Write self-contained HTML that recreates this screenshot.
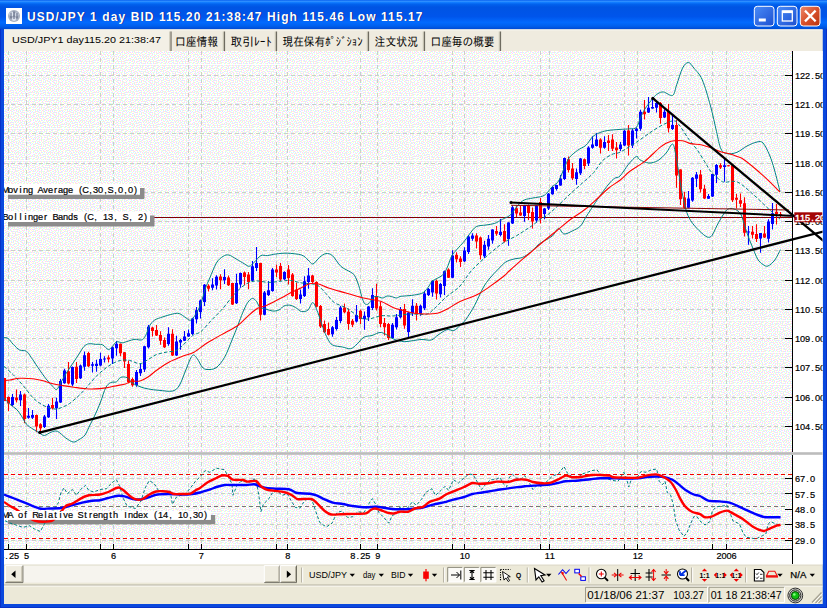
<!DOCTYPE html>
<html lang="ja"><head><meta charset="utf-8"><title>USD/JPY 1 day</title>
<style>
html,body{margin:0;padding:0;background:#0a48dd;overflow:hidden}
svg{display:block}
text{font-family:"Liberation Sans","IPAGothic","Noto Sans CJK JP",sans-serif}
.mono{font-family:"Liberation Sans","IPAGothic",sans-serif;stroke:#000;stroke-width:0.2px}
.jp{font-family:"Liberation Sans","IPAGothic","Noto Sans CJK JP",sans-serif}
.grid{stroke:#c9d0c9;stroke-width:1;stroke-dasharray:4 3;fill:none;shape-rendering:crispEdges}
.bb{stroke:#008080;stroke-width:1;fill:none}
.bbm{stroke:#008080;stroke-width:1;fill:none;stroke-dasharray:3.5 2}
.ma{stroke:#ff0000;stroke-width:1.1;fill:none}
.tl{stroke:#000;stroke-width:2.3;fill:none}
</style></head><body>
<svg width="827" height="608" viewBox="0 0 827 608">
<defs>
<linearGradient id="tb" x1="0" y1="0" x2="0" y2="1">
<stop offset="0" stop-color="#0058ee"/><stop offset="0.04" stop-color="#3593ff"/><stop offset="0.08" stop-color="#127dff"/>
<stop offset="0.14" stop-color="#0262ee"/><stop offset="0.24" stop-color="#0054e3"/><stop offset="0.56" stop-color="#0055eb"/>
<stop offset="0.76" stop-color="#026afe"/><stop offset="0.88" stop-color="#0060ee"/><stop offset="1" stop-color="#0048d0"/>
</linearGradient>
<linearGradient id="btn" x1="0" y1="0" x2="1" y2="1"><stop offset="0" stop-color="#4a8cf8"/><stop offset="1" stop-color="#1c4fd0"/></linearGradient>
<linearGradient id="cls" x1="0" y1="0" x2="1" y2="1"><stop offset="0" stop-color="#ee8a6c"/><stop offset="0.5" stop-color="#d8512c"/><stop offset="1" stop-color="#b8320e"/></linearGradient>
<pattern id="dz" width="32" height="32" patternUnits="userSpaceOnUse" shape-rendering="crispEdges"><rect width="32" height="32" fill="#fff"/><path d="M2 1h1v1h-1zM5 1h1v1h-1zM8 1h1v1h-1zM11 1h1v1h-1zM14 1h1v1h-1zM17 1h1v1h-1zM20 1h1v1h-1zM23 1h1v1h-1zM26 1h1v1h-1zM29 1h1v1h-1zM4 2h1v1h-1zM12 2h1v1h-1zM19 2h1v1h-1zM25 2h1v1h-1zM31 2h1v1h-1zM2 3h1v1h-1zM8 3h1v1h-1zM10 3h1v1h-1zM14 3h1v1h-1zM17 3h1v1h-1zM23 3h1v1h-1zM29 3h1v1h-1zM4 4h1v1h-1zM7 4h1v1h-1zM19 4h1v1h-1zM21 4h1v1h-1zM25 4h1v1h-1zM0 5h1v1h-1zM2 5h1v1h-1zM10 5h1v1h-1zM13 5h1v1h-1zM15 5h1v1h-1zM17 5h1v1h-1zM28 5h1v1h-1zM30 5h1v1h-1zM5 6h1v1h-1zM19 6h1v1h-1zM22 6h1v1h-1zM24 6h1v1h-1zM26 6h1v1h-1zM0 7h1v1h-1zM3 7h1v1h-1zM7 7h1v1h-1zM11 7h1v1h-1zM13 7h1v1h-1zM17 7h1v1h-1zM28 7h1v1h-1zM5 8h1v1h-1zM9 8h1v1h-1zM15 8h1v1h-1zM19 8h1v1h-1zM22 8h1v1h-1zM30 8h1v1h-1zM2 9h1v1h-1zM7 9h1v1h-1zM13 9h1v1h-1zM20 9h1v1h-1zM25 9h1v1h-1zM28 9h1v1h-1zM3 10h1v1h-1zM9 10h1v1h-1zM15 10h1v1h-1zM18 10h1v1h-1zM23 10h1v1h-1zM31 10h1v1h-1zM1 11h1v1h-1zM5 11h1v1h-1zM7 11h1v1h-1zM12 11h1v1h-1zM16 11h1v1h-1zM21 11h1v1h-1zM26 11h1v1h-1zM29 11h1v1h-1zM9 12h1v1h-1zM14 12h1v1h-1zM23 12h1v1h-1zM28 12h1v1h-1zM0 13h1v1h-1zM3 13h1v1h-1zM6 13h1v1h-1zM12 13h1v1h-1zM19 13h1v1h-1zM21 13h1v1h-1zM26 13h1v1h-1zM7 14h1v1h-1zM10 14h1v1h-1zM14 14h1v1h-1zM16 14h1v1h-1zM23 14h1v1h-1zM29 14h1v1h-1zM3 15h1v1h-1zM5 15h1v1h-1zM12 15h1v1h-1zM18 15h1v1h-1zM20 15h1v1h-1zM27 15h1v1h-1zM30 15h1v1h-1zM1 16h1v1h-1zM7 16h1v1h-1zM9 16h1v1h-1zM15 16h1v1h-1zM22 16h1v1h-1zM24 16h1v1h-1zM5 17h1v1h-1zM13 17h1v1h-1zM17 17h1v1h-1zM20 17h1v1h-1zM26 17h1v1h-1zM30 17h1v1h-1zM2 18h1v1h-1zM8 18h1v1h-1zM11 18h1v1h-1zM22 18h1v1h-1zM28 18h1v1h-1zM0 19h1v1h-1zM6 19h1v1h-1zM15 19h1v1h-1zM18 19h1v1h-1zM23 19h1v1h-1zM26 19h1v1h-1zM2 20h1v1h-1zM4 20h1v1h-1zM8 20h1v1h-1zM10 20h1v1h-1zM13 20h1v1h-1zM20 20h1v1h-1zM25 20h1v1h-1zM28 20h1v1h-1zM31 20h1v1h-1zM0 21h1v1h-1zM17 21h1v1h-1zM22 21h1v1h-1zM29 21h1v1h-1zM3 22h1v1h-1zM5 22h1v1h-1zM8 22h1v1h-1zM11 22h1v1h-1zM14 22h1v1h-1zM20 22h1v1h-1zM24 22h1v1h-1zM6 23h1v1h-1zM12 23h1v1h-1zM18 23h1v1h-1zM27 23h1v1h-1zM30 23h1v1h-1zM1 24h1v1h-1zM9 24h1v1h-1zM14 24h1v1h-1zM16 24h1v1h-1zM20 24h1v1h-1zM22 24h1v1h-1zM26 24h1v1h-1zM4 25h1v1h-1zM7 25h1v1h-1zM18 25h1v1h-1zM24 25h1v1h-1zM30 25h1v1h-1zM2 26h1v1h-1zM10 26h1v1h-1zM12 26h1v1h-1zM15 26h1v1h-1zM21 26h1v1h-1zM26 26h1v1h-1zM28 26h1v1h-1zM0 27h1v1h-1zM5 27h1v1h-1zM8 27h1v1h-1zM19 27h1v1h-1zM24 27h1v1h-1zM2 28h1v1h-1zM11 28h1v1h-1zM13 28h1v1h-1zM16 28h1v1h-1zM21 28h1v1h-1zM29 28h1v1h-1zM31 28h1v1h-1zM4 29h1v1h-1zM6 29h1v1h-1zM9 29h1v1h-1zM17 29h1v1h-1zM22 29h1v1h-1zM25 29h1v1h-1zM27 29h1v1h-1zM1 30h1v1h-1zM8 30h1v1h-1zM13 30h1v1h-1zM19 30h1v1h-1zM29 30h1v1h-1zM5 31h1v1h-1zM11 31h1v1h-1zM15 31h1v1h-1zM17 31h1v1h-1zM22 31h1v1h-1zM25 31h1v1h-1zM27 31h1v1h-1z" fill="#ffccff"/><path d="M0 1h1v1h-1zM3 1h1v1h-1zM6 1h1v1h-1zM9 1h1v1h-1zM12 1h1v1h-1zM15 1h1v1h-1zM18 1h1v1h-1zM21 1h1v1h-1zM24 1h1v1h-1zM27 1h1v1h-1zM30 1h1v1h-1zM14 2h1v1h-1zM20 2h1v1h-1zM26 2h1v1h-1zM1 3h1v1h-1zM4 3h1v1h-1zM6 3h1v1h-1zM9 3h1v1h-1zM12 3h1v1h-1zM18 3h1v1h-1zM24 3h1v1h-1zM30 3h1v1h-1zM3 4h1v1h-1zM8 4h1v1h-1zM11 4h1v1h-1zM14 4h1v1h-1zM20 4h1v1h-1zM22 4h1v1h-1zM26 4h1v1h-1zM29 4h1v1h-1zM1 5h1v1h-1zM6 5h1v1h-1zM16 5h1v1h-1zM18 5h1v1h-1zM24 5h1v1h-1zM27 5h1v1h-1zM3 6h1v1h-1zM10 6h1v1h-1zM29 6h1v1h-1zM1 7h1v1h-1zM8 7h1v1h-1zM12 7h1v1h-1zM14 7h1v1h-1zM16 7h1v1h-1zM20 7h1v1h-1zM23 7h1v1h-1zM26 7h1v1h-1zM3 8h1v1h-1zM6 8h1v1h-1zM18 8h1v1h-1zM25 8h1v1h-1zM28 8h1v1h-1zM31 8h1v1h-1zM4 9h1v1h-1zM9 9h1v1h-1zM12 9h1v1h-1zM15 9h1v1h-1zM21 9h1v1h-1zM23 9h1v1h-1zM29 9h1v1h-1zM1 10h1v1h-1zM6 10h1v1h-1zM17 10h1v1h-1zM26 10h1v1h-1zM2 11h1v1h-1zM9 11h1v1h-1zM11 11h1v1h-1zM15 11h1v1h-1zM20 11h1v1h-1zM24 11h1v1h-1zM30 11h1v1h-1zM4 12h1v1h-1zM7 12h1v1h-1zM13 12h1v1h-1zM18 12h1v1h-1zM22 12h1v1h-1zM26 12h1v1h-1zM29 12h1v1h-1zM1 13h1v1h-1zM11 13h1v1h-1zM16 13h1v1h-1zM3 14h1v1h-1zM5 14h1v1h-1zM8 14h1v1h-1zM13 14h1v1h-1zM18 14h1v1h-1zM20 14h1v1h-1zM22 14h1v1h-1zM25 14h1v1h-1zM27 14h1v1h-1zM30 14h1v1h-1zM0 15h1v1h-1zM6 15h1v1h-1zM11 15h1v1h-1zM16 15h1v1h-1zM28 15h1v1h-1zM2 16h1v1h-1zM8 16h1v1h-1zM13 16h1v1h-1zM18 16h1v1h-1zM21 16h1v1h-1zM23 16h1v1h-1zM26 16h1v1h-1zM31 16h1v1h-1zM4 17h1v1h-1zM11 17h1v1h-1zM16 17h1v1h-1zM1 18h1v1h-1zM6 18h1v1h-1zM9 18h1v1h-1zM13 18h1v1h-1zM18 18h1v1h-1zM21 18h1v1h-1zM24 18h1v1h-1zM27 18h1v1h-1zM29 18h1v1h-1zM4 19h1v1h-1zM16 19h1v1h-1zM30 19h1v1h-1zM1 20h1v1h-1zM6 20h1v1h-1zM9 20h1v1h-1zM11 20h1v1h-1zM14 20h1v1h-1zM18 20h1v1h-1zM21 20h1v1h-1zM23 20h1v1h-1zM26 20h1v1h-1zM7 21h1v1h-1zM12 21h1v1h-1zM24 21h1v1h-1zM30 21h1v1h-1zM2 22h1v1h-1zM4 22h1v1h-1zM9 22h1v1h-1zM16 22h1v1h-1zM19 22h1v1h-1zM21 22h1v1h-1zM26 22h1v1h-1zM28 22h1v1h-1zM1 23h1v1h-1zM15 23h1v1h-1zM23 23h1v1h-1zM3 24h1v1h-1zM5 24h1v1h-1zM7 24h1v1h-1zM10 24h1v1h-1zM12 24h1v1h-1zM17 24h1v1h-1zM19 24h1v1h-1zM25 24h1v1h-1zM28 24h1v1h-1zM30 24h1v1h-1zM15 25h1v1h-1zM22 25h1v1h-1zM26 25h1v1h-1zM1 26h1v1h-1zM6 26h1v1h-1zM8 26h1v1h-1zM11 26h1v1h-1zM13 26h1v1h-1zM17 26h1v1h-1zM20 26h1v1h-1zM24 26h1v1h-1zM29 26h1v1h-1zM3 27h1v1h-1zM9 27h1v1h-1zM22 27h1v1h-1zM27 27h1v1h-1zM1 28h1v1h-1zM4 28h1v1h-1zM6 28h1v1h-1zM12 28h1v1h-1zM15 28h1v1h-1zM18 28h1v1h-1zM25 28h1v1h-1zM30 28h1v1h-1zM10 29h1v1h-1zM16 29h1v1h-1zM20 29h1v1h-1zM23 29h1v1h-1zM28 29h1v1h-1zM2 30h1v1h-1zM6 30h1v1h-1zM12 30h1v1h-1zM25 30h1v1h-1zM30 30h1v1h-1zM0 31h1v1h-1zM4 31h1v1h-1zM9 31h1v1h-1zM13 31h1v1h-1zM16 31h1v1h-1zM19 31h1v1h-1zM21 31h1v1h-1zM23 31h1v1h-1zM28 31h1v1h-1z" fill="#ccffff"/><path d="M1 1h1v1h-1zM4 1h1v1h-1zM7 1h1v1h-1zM10 1h1v1h-1zM13 1h1v1h-1zM16 1h1v1h-1zM19 1h1v1h-1zM22 1h1v1h-1zM25 1h1v1h-1zM28 1h1v1h-1zM3 2h1v1h-1zM9 2h1v1h-1zM15 2h1v1h-1zM27 2h1v1h-1zM30 2h1v1h-1zM0 3h1v1h-1zM7 3h1v1h-1zM13 3h1v1h-1zM20 3h1v1h-1zM22 3h1v1h-1zM25 3h1v1h-1zM2 4h1v1h-1zM5 4h1v1h-1zM9 4h1v1h-1zM12 4h1v1h-1zM16 4h1v1h-1zM18 4h1v1h-1zM24 4h1v1h-1zM28 4h1v1h-1zM31 4h1v1h-1zM7 5h1v1h-1zM14 5h1v1h-1zM21 5h1v1h-1zM26 5h1v1h-1zM1 6h1v1h-1zM4 6h1v1h-1zM9 6h1v1h-1zM11 6h1v1h-1zM17 6h1v1h-1zM23 6h1v1h-1zM28 6h1v1h-1zM31 6h1v1h-1zM2 7h1v1h-1zM6 7h1v1h-1zM15 7h1v1h-1zM21 7h1v1h-1zM29 7h1v1h-1zM8 8h1v1h-1zM12 8h1v1h-1zM17 8h1v1h-1zM20 8h1v1h-1zM24 8h1v1h-1zM26 8h1v1h-1zM0 9h1v1h-1zM3 9h1v1h-1zM6 9h1v1h-1zM10 9h1v1h-1zM14 9h1v1h-1zM30 9h1v1h-1zM5 10h1v1h-1zM16 10h1v1h-1zM19 10h1v1h-1zM22 10h1v1h-1zM25 10h1v1h-1zM28 10h1v1h-1zM0 11h1v1h-1zM3 11h1v1h-1zM8 11h1v1h-1zM10 11h1v1h-1zM14 11h1v1h-1zM17 11h1v1h-1zM23 11h1v1h-1zM11 12h1v1h-1zM19 12h1v1h-1zM25 12h1v1h-1zM27 12h1v1h-1zM30 12h1v1h-1zM2 13h1v1h-1zM5 13h1v1h-1zM7 13h1v1h-1zM9 13h1v1h-1zM13 13h1v1h-1zM15 13h1v1h-1zM17 13h1v1h-1zM22 13h1v1h-1zM1 14h1v1h-1zM11 14h1v1h-1zM19 14h1v1h-1zM24 14h1v1h-1zM28 14h1v1h-1zM31 14h1v1h-1zM4 15h1v1h-1zM9 15h1v1h-1zM17 15h1v1h-1zM22 15h1v1h-1zM26 15h1v1h-1zM3 16h1v1h-1zM6 16h1v1h-1zM11 16h1v1h-1zM14 16h1v1h-1zM19 16h1v1h-1zM29 16h1v1h-1zM1 17h1v1h-1zM9 17h1v1h-1zM15 17h1v1h-1zM21 17h1v1h-1zM24 17h1v1h-1zM27 17h1v1h-1zM3 18h1v1h-1zM7 18h1v1h-1zM12 18h1v1h-1zM17 18h1v1h-1zM26 18h1v1h-1zM30 18h1v1h-1zM1 19h1v1h-1zM5 19h1v1h-1zM10 19h1v1h-1zM14 19h1v1h-1zM19 19h1v1h-1zM22 19h1v1h-1zM24 19h1v1h-1zM28 19h1v1h-1zM7 20h1v1h-1zM16 20h1v1h-1zM30 20h1v1h-1zM3 21h1v1h-1zM5 21h1v1h-1zM10 21h1v1h-1zM13 21h1v1h-1zM18 21h1v1h-1zM21 21h1v1h-1zM23 21h1v1h-1zM26 21h1v1h-1zM28 21h1v1h-1zM1 22h1v1h-1zM7 22h1v1h-1zM15 22h1v1h-1zM31 22h1v1h-1zM2 23h1v1h-1zM5 23h1v1h-1zM9 23h1v1h-1zM11 23h1v1h-1zM13 23h1v1h-1zM17 23h1v1h-1zM21 23h1v1h-1zM24 23h1v1h-1zM26 23h1v1h-1zM29 23h1v1h-1zM18 24h1v1h-1zM31 24h1v1h-1zM3 25h1v1h-1zM6 25h1v1h-1zM8 25h1v1h-1zM11 25h1v1h-1zM14 25h1v1h-1zM16 25h1v1h-1zM20 25h1v1h-1zM23 25h1v1h-1zM25 25h1v1h-1zM27 25h1v1h-1zM29 25h1v1h-1zM18 26h1v1h-1zM2 27h1v1h-1zM4 27h1v1h-1zM7 27h1v1h-1zM10 27h1v1h-1zM13 27h1v1h-1zM16 27h1v1h-1zM20 27h1v1h-1zM23 27h1v1h-1zM26 27h1v1h-1zM30 27h1v1h-1zM0 28h1v1h-1zM5 28h1v1h-1zM28 28h1v1h-1zM3 29h1v1h-1zM8 29h1v1h-1zM11 29h1v1h-1zM13 29h1v1h-1zM15 29h1v1h-1zM18 29h1v1h-1zM21 29h1v1h-1zM24 29h1v1h-1zM26 29h1v1h-1zM5 30h1v1h-1zM17 30h1v1h-1zM22 30h1v1h-1zM28 30h1v1h-1zM31 30h1v1h-1zM1 31h1v1h-1zM3 31h1v1h-1zM7 31h1v1h-1zM10 31h1v1h-1zM14 31h1v1h-1zM20 31h1v1h-1zM26 31h1v1h-1zM29 31h1v1h-1z" fill="#ffffcc"/></pattern>
<clipPath id="cp"><rect x="4" y="51" width="818.5" height="499"/></clipPath>
<clipPath id="cx"><rect x="4" y="549" width="818.5" height="16"/></clipPath>
<clipPath id="cm"><rect x="4" y="51" width="788.5" height="401.5"/></clipPath>
<clipPath id="cr"><rect x="4" y="455" width="788.5" height="94"/></clipPath>
</defs>
<rect x="0" y="0" width="827" height="608" fill="#0a48dd"/>
<rect x="0" y="0" width="827" height="29.5" fill="url(#tb)"/>
<rect x="0" y="29" width="1" height="579" fill="#0831c9"/><rect x="826" y="29" width="1" height="579" fill="#0831c9"/><rect x="0" y="607" width="827" height="1" fill="#0831c9"/>
<g><rect x="6" y="8" width="16" height="16" fill="#fff"/><circle cx="14" cy="16" r="6" fill="#a8b0c0"/><circle cx="11.5" cy="14" r="2.2" fill="#dfe6f0"/><circle cx="16.5" cy="14.5" r="2" fill="#d0d8e6"/><circle cx="14" cy="19" r="2.1" fill="#dce2ee"/><path d="M11 12.5v6M14 11.5v7.5M17 13v5.5" stroke="#4a5470" stroke-width="0.9" fill="none"/></g>
<text x="28" y="21.4" font-size="12" font-weight="bold" fill="#0a2a90" textLength="395.5" lengthAdjust="spacing" xml:space="preserve">USD/JPY 1 day BID 115.20 21:38:47 High 115.46 Low 115.17</text>
<text x="27" y="20.6" font-size="12" font-weight="bold" fill="#fff" textLength="395.5" lengthAdjust="spacing" xml:space="preserve">USD/JPY 1 day BID 115.20 21:38:47 High 115.46 Low 115.17</text>
<rect x="754.3" y="6.3" width="19.7" height="19.7" rx="3" fill="url(#btn)" stroke="#fff" stroke-width="1"/>
<rect x="758.8" y="18.5" width="7" height="3" fill="#fff"/>
<rect x="777.3" y="6.3" width="19.7" height="19.7" rx="3" fill="url(#btn)" stroke="#fff" stroke-width="1"/>
<rect x="782.3" y="11" width="10" height="10" fill="none" stroke="#fff" stroke-width="1.3"/><rect x="782.3" y="10.5" width="10" height="2.6" fill="#fff"/>
<rect x="800.3" y="6.3" width="19.7" height="19.7" rx="3" fill="url(#cls)" stroke="#fff" stroke-width="1"/>
<path d="M805.8 11.5 L814.8 20.5 M814.8 11.5 L805.8 20.5" stroke="#fff" stroke-width="2.3" stroke-linecap="square"/>
<rect x="4" y="29.5" width="818.5" height="574.5" fill="#ece9d8"/>
<rect x="4" y="29.5" width="818.5" height="21.5" fill="#efebdf"/>
<rect x="4" y="30.5" width="166" height="20.5" fill="#f3f0e6"/>
<rect x="4" y="29.5" width="818.5" height="1" fill="#f8f6ee"/>
<text x="12" y="43.3" font-size="9.8" fill="#000" textLength="149" lengthAdjust="spacingAndGlyphs" xml:space="preserve">USD/JPY1 day115.20 21:38:47</text>
<rect x="169.3" y="31.5" width="1.2" height="19.5" fill="#c4c0b0"/><rect x="170.5" y="31.5" width="1.1" height="19.5" fill="#6e6b60"/>
<rect x="222.8" y="31.5" width="1.2" height="19.5" fill="#c4c0b0"/><rect x="224" y="31.5" width="1.1" height="19.5" fill="#6e6b60"/>
<rect x="274.8" y="31.5" width="1.2" height="19.5" fill="#c4c0b0"/><rect x="276" y="31.5" width="1.1" height="19.5" fill="#6e6b60"/>
<rect x="366.8" y="31.5" width="1.2" height="19.5" fill="#c4c0b0"/><rect x="368" y="31.5" width="1.1" height="19.5" fill="#6e6b60"/>
<rect x="422.8" y="31.5" width="1.2" height="19.5" fill="#c4c0b0"/><rect x="424" y="31.5" width="1.1" height="19.5" fill="#6e6b60"/>
<rect x="498.8" y="31.5" width="1.2" height="19.5" fill="#c4c0b0"/><rect x="500" y="31.5" width="1.1" height="19.5" fill="#6e6b60"/>
<text class="jp" x="175" y="45.5" font-size="12" fill="#000" textLength="43" lengthAdjust="spacingAndGlyphs">口座情報</text>
<text class="jp" x="230.5" y="45.5" font-size="12" fill="#000" textLength="41" lengthAdjust="spacingAndGlyphs">取引ﾚｰﾄ</text>
<text class="jp" x="282.5" y="45.5" font-size="12" fill="#000" textLength="80" lengthAdjust="spacingAndGlyphs">現在保有ﾎﾟｼﾞｼｮﾝ</text>
<text class="jp" x="374.5" y="45.5" font-size="12" fill="#000" textLength="43.5" lengthAdjust="spacingAndGlyphs">注文状況</text>
<text class="jp" x="430.5" y="45.5" font-size="12" fill="#000" textLength="64" lengthAdjust="spacingAndGlyphs">口座毎の概要</text>
<rect x="4" y="51" width="818.5" height="499" fill="#f5f5f5"/><rect x="4" y="51" width="818.5" height="499" fill="url(#dz)"/>
<rect x="792.5" y="51" width="30.0" height="513" fill="#fff"/>
<rect x="4" y="550" width="818.5" height="15" fill="#fff"/>
<path class="grid" d="M8.5 51V452 M8.5 455V549 M26.5 51V452 M26.5 455V549 M100.5 51V452 M100.5 455V549 M113.5 51V452 M113.5 455V549 M188.5 51V452 M188.5 455V549 M201.5 51V452 M201.5 455V549 M276.5 51V452 M276.5 455V549 M287.5 51V452 M287.5 455V549 M360.5 51V452 M360.5 455V549 M377.5 51V452 M377.5 455V549 M452.5 51V452 M452.5 455V549 M464.5 51V452 M464.5 455V549 M540.5 51V452 M540.5 455V549 M549.5 51V452 M549.5 455V549 M624.5 51V452 M624.5 455V549 M637.5 51V452 M637.5 455V549 M712.5 51V452 M712.5 455V549 M726.5 51V452 M726.5 455V549 M4 75.5H784.5 M4 104.5H784.5 M4 133.5H784.5 M4 163.5H784.5 M4 192.5H784.5 M4 221.5H784.5 M4 250.5H784.5 M4 280.5H784.5 M4 309.5H784.5 M4 338.5H784.5 M4 367.5H784.5 M4 397.5H784.5 M4 426.5H784.5"/>
<path class="grid" d="M4 478.5H784.5 M4 493.5H784.5 M4 524.5H784.5 M4 540.5H784.5"/>
<path d="M4 506.5H784.5" stroke="#787878" stroke-width="1" stroke-dasharray="4 3" fill="none" shape-rendering="crispEdges"/>
<path d="M4 474.5H792.5 M4 538.5H792.5" stroke="#f00000" stroke-width="1" stroke-dasharray="4 3" fill="none" shape-rendering="crispEdges"/>
<g clip-path="url(#cm)">
<path d="M150 217.5H792.5" stroke="#800000" stroke-width="1" fill="none" shape-rendering="crispEdges"/>
<path d="M772.5 203.0V229.6 M768.5 219.3V242.6 M760.5 233.0V252.8 M748.5 226.0V244.8 M724.5 157.0V181.7 M716.5 164.1V183.0 M712.5 174.0V197.0 M708.5 194.0V199.0 M696.5 172.0V186.9 M692.5 177.0V201.7 M688.5 191.0V208.3 M672.5 114.3V130.0 M664.5 109.3V118.0 M656.5 101.0V112.6 M652.5 98.2V108.8 M648.5 97.0V113.0 M640.5 109.8V130.7 M636.5 127.4V138.6 M632.5 129.0V148.0 M624.5 130.0V146.3 M620.5 142.0V151.0 M604.5 136.3V148.7 M596.5 133.0V146.5 M592.5 136.3V148.7 M588.5 146.2V166.0 M580.5 158.0V175.0 M576.5 168.4V184.8 M564.5 157.4V180.0 M560.5 175.0V185.7 M556.5 184.8V190.6 M552.5 185.7V194.7 M548.5 193.0V210.0 M544.5 208.0V219.3 M536.5 204.9V222.6 M524.5 204.7V221.8 M512.5 205.4V224.0 M508.5 222.3V245.7 M500.5 219.0V236.6 M492.5 229.2V243.7 M488.5 235.0V249.8 M484.5 240.7V258.0 M472.5 233.3V240.7 M468.5 235.0V253.9 M464.5 247.3V262.0 M452.5 250.2V278.0 M444.5 270.4V295.0 M440.5 283.0V297.6 M432.5 280.3V296.7 M428.5 288.0V296.0 M424.5 290.7V310.0 M420.5 304.5V315.7 M412.5 299.2V316.0 M408.5 312.0V337.0 M400.5 307.0V318.6 M396.5 314.0V329.6 M392.5 323.0V338.7 M372.5 288.3V310.0 M368.5 306.0V321.0 M364.5 311.6V329.7 M356.5 305.0V322.4 M340.5 306.0V323.2 M336.5 317.0V330.6 M332.5 326.0V336.8 M308.5 268.0V288.7 M304.5 276.3V296.9 M300.5 289.5V303.5 M284.5 271.3V280.0 M272.5 268.0V291.8 M268.5 281.0V296.0 M264.5 291.0V315.3 M256.5 246.9V270.9 M252.5 261.0V281.4 M240.5 272.6V287.7 M236.5 273.7V304.0 M224.5 269.3V284.0 M216.5 275.2V289.5 M212.5 278.2V290.3 M204.5 284.0V306.0 M200.5 299.6V318.5 M196.5 307.0V323.5 M192.5 317.7V335.0 M188.5 329.5V337.0 M184.5 330.9V341.0 M180.5 339.0V349.8 M176.5 335.8V355.9 M168.5 327.2V345.7 M148.5 325.0V348.6 M144.5 345.7V372.0 M140.5 363.6V376.0 M136.5 370.0V386.8 M116.5 340.9V355.7 M112.5 346.6V364.0 M104.5 356.2V362.6 M100.5 352.7V366.2 M96.5 359.7V371.7 M92.5 361.9V372.5 M84.5 351.5V370.8 M80.5 364.6V379.0 M72.5 366.4V386.3 M64.5 368.8V383.8 M60.5 379.0V403.1 M56.5 397.7V418.9 M48.5 404.0V417.9 M44.5 415.1V428.0 M32.5 410.0V419.0 M28.5 407.9V418.8 M20.5 391.0V406.0 M12.5 394.0V406.0" stroke="#0000ff" stroke-width="1.1" fill="none"/>
<path d="M771.0 213.3h3V223.9h-3z M767.0 221.5h3V238.8h-3z M759.0 233.0h3V238.5h-3z M747.0 231.5h3V232.5h-3z M723.0 165.3h3V166.9h-3z M715.0 165.0h3V174.8h-3z M711.0 174.0h3V196.5h-3z M707.0 195.9h3V198.7h-3z M695.0 174.5h3V178.7h-3z M691.0 177.8h3V200.5h-3z M687.0 198.4h3V207.8h-3z M671.0 125.0h3V129.0h-3z M663.0 111.8h3V117.6h-3z M655.0 103.0h3V107.7h-3z M651.0 107.0h3V108.5h-3z M647.0 107.7h3V112.6h-3z M639.0 111.8h3V128.8h-3z M635.0 128.8h3V131.0h-3z M631.0 130.4h3V145.5h-3z M623.0 130.7h3V145.5h-3z M619.0 144.5h3V149.0h-3z M603.0 142.0h3V147.8h-3z M595.0 139.6h3V145.9h-3z M591.0 144.5h3V147.8h-3z M587.0 147.5h3V163.5h-3z M579.0 158.5h3V173.3h-3z M575.0 172.2h3V179.0h-3z M563.0 158.0h3V179.0h-3z M559.0 178.5h3V185.4h-3z M555.0 185.0h3V189.0h-3z M551.0 187.0h3V194.3h-3z M547.0 193.7h3V208.4h-3z M543.0 208.6h3V214.0h-3z M535.0 205.4h3V220.5h-3z M523.0 205.4h3V216.0h-3z M511.0 207.2h3V223.5h-3z M507.0 222.6h3V239.0h-3z M499.0 231.7h3V235.0h-3z M491.0 229.5h3V240.4h-3z M487.0 238.8h3V246.5h-3z M483.0 244.8h3V256.3h-3z M471.0 235.5h3V238.8h-3z M467.0 236.6h3V251.9h-3z M463.0 250.6h3V261.3h-3z M451.0 255.4h3V277.8h-3z M443.0 271.2h3V286.0h-3z M439.0 284.0h3V294.3h-3z M431.0 281.0h3V292.6h-3z M427.0 289.0h3V295.0h-3z M423.0 293.5h3V308.3h-3z M419.0 305.8h3V313.7h-3z M411.0 305.8h3V313.2h-3z M407.0 312.4h3V332.0h-3z M399.0 309.0h3V317.3h-3z M395.0 317.3h3V327.2h-3z M391.0 324.7h3V337.9h-3z M371.0 295.1h3V308.0h-3z M367.0 306.6h3V317.2h-3z M363.0 315.7h3V319.0h-3z M355.0 315.0h3V321.5h-3z M339.0 307.6h3V321.0h-3z M335.0 319.9h3V329.0h-3z M331.0 327.3h3V334.2h-3z M307.0 275.5h3V282.0h-3z M303.0 281.2h3V296.0h-3z M299.0 294.4h3V299.1h-3z M283.0 272.1h3V279.2h-3z M271.0 269.6h3V291.0h-3z M267.0 290.2h3V295.0h-3z M263.0 292.6h3V314.8h-3z M255.0 263.0h3V268.0h-3z M251.0 266.3h3V280.8h-3z M239.0 272.9h3V284.4h-3z M235.0 283.0h3V303.3h-3z M223.0 277.0h3V280.3h-3z M215.0 276.8h3V285.4h-3z M211.0 284.6h3V287.7h-3z M203.0 284.8h3V302.0h-3z M199.0 300.4h3V312.0h-3z M195.0 310.3h3V319.3h-3z M191.0 318.5h3V334.0h-3z M187.0 333.3h3V336.6h-3z M183.0 336.6h3V340.7h-3z M179.0 339.9h3V342.4h-3z M175.0 341.5h3V355.5h-3z M167.0 333.8h3V344.0h-3z M147.0 326.7h3V347.3h-3z M143.0 346.3h3V369.5h-3z M139.0 369.0h3V373.2h-3z M135.0 372.0h3V385.3h-3z M115.0 343.8h3V348.3h-3z M111.0 347.3h3V358.6h-3z M103.0 358.4h3V359.6h-3z M99.0 358.9h3V365.5h-3z M95.0 363.8h3V366.1h-3z M91.0 364.3h3V365.8h-3z M83.0 355.2h3V366.7h-3z M79.0 365.5h3V378.2h-3z M71.0 367.1h3V384.4h-3z M63.0 370.4h3V383.2h-3z M59.0 381.0h3V402.5h-3z M55.0 401.6h3V408.2h-3z M47.0 405.7h3V417.3h-3z M43.0 416.4h3V427.1h-3z M31.0 415.0h3V417.8h-3z M27.0 415.8h3V417.8h-3z M19.0 394.4h3V400.2h-3z M11.0 396.9h3V405.0h-3z" fill="#0000ff"/>
<path d="M780.5 212.0V217.5 M776.5 204.0V224.6 M764.5 226.0V238.0 M756.5 224.2V242.0 M752.5 226.0V238.6 M744.5 197.3V236.6 M740.5 193.4V206.9 M736.5 193.7V208.5 M732.5 164.1V202.0 M728.5 165.3V166.3 M720.5 163.3V169.0 M704.5 184.7V199.0 M700.5 170.0V192.6 M684.5 191.8V208.8 M680.5 169.3V205.0 M676.5 120.0V187.7 M668.5 104.0V132.4 M660.5 102.0V123.8 M644.5 100.0V119.5 M628.5 125.0V155.4 M616.5 142.0V158.5 M612.5 134.3V151.0 M608.5 135.0V151.0 M600.5 138.3V153.6 M584.5 158.5V169.2 M572.5 163.0V180.0 M568.5 156.4V172.5 M540.5 198.0V223.5 M532.5 207.5V228.4 M528.5 204.5V220.0 M520.5 205.4V216.0 M516.5 205.4V216.9 M504.5 224.3V242.4 M496.5 225.9V235.8 M480.5 236.6V259.6 M476.5 233.3V248.6 M460.5 256.3V267.0 M456.5 252.2V262.6 M448.5 268.3V278.0 M436.5 279.5V299.5 M416.5 303.0V320.6 M404.5 304.0V328.8 M388.5 323.0V340.0 M384.5 318.0V335.4 M380.5 301.7V327.2 M376.5 283.8V310.4 M360.5 309.5V324.0 M352.5 319.0V327.0 M348.5 308.4V329.8 M344.5 303.5V313.3 M328.5 322.4V335.5 M324.5 320.4V333.0 M320.5 305.0V328.0 M316.5 281.2V307.6 M312.5 274.7V283.0 M296.5 282.5V300.1 M292.5 273.0V296.8 M288.5 265.0V284.4 M280.5 263.0V281.0 M276.5 264.7V277.0 M260.5 262.7V320.6 M248.5 272.0V289.3 M244.5 271.6V285.2 M232.5 282.8V305.0 M228.5 275.4V286.0 M220.5 274.2V289.3 M208.5 284.2V291.6 M172.5 329.2V355.9 M164.5 337.4V348.0 M160.5 331.2V344.8 M156.5 325.0V336.0 M152.5 326.7V336.6 M132.5 377.4V386.8 M128.5 360.6V383.3 M124.5 352.0V368.0 M120.5 343.5V356.2 M108.5 355.2V362.6 M88.5 351.8V367.1 M76.5 361.9V383.0 M68.5 361.9V384.4 M52.5 397.7V409.5 M40.5 423.2V431.4 M36.5 414.5V432.2 M24.5 393.6V423.2 M16.5 389.5V402.6 M8.5 396.4V410.9 M4.5 378.0V401.0" stroke="#ff0000" stroke-width="1.1" fill="none"/>
<path d="M779.0 214.0h3V215.0h-3z M775.0 211.8h3V213.9h-3z M763.0 233.4h3V237.6h-3z M755.0 234.0h3V238.9h-3z M751.0 231.8h3V234.8h-3z M743.0 203.3h3V232.8h-3z M739.0 200.2h3V203.8h-3z M735.0 197.8h3V199.8h-3z M731.0 165.3h3V200.3h-3z M727.0 165.3h3V166.3h-3z M719.0 165.3h3V167.4h-3z M703.0 188.8h3V198.6h-3z M699.0 174.5h3V189.3h-3z M683.0 197.6h3V207.8h-3z M679.0 169.6h3V199.2h-3z M675.0 125.0h3V175.4h-3z M667.0 111.0h3V128.3h-3z M659.0 103.0h3V118.0h-3z M643.0 111.8h3V114.3h-3z M627.0 130.4h3V145.5h-3z M615.0 147.5h3V150.3h-3z M611.0 139.6h3V148.7h-3z M607.0 140.4h3V142.9h-3z M599.0 139.6h3V147.8h-3z M583.0 159.3h3V166.0h-3z M571.0 168.4h3V178.3h-3z M567.0 159.3h3V170.0h-3z M539.0 202.0h3V218.5h-3z M531.0 212.0h3V221.5h-3z M527.0 205.4h3V213.0h-3z M519.0 212.5h3V215.5h-3z M515.0 208.2h3V213.6h-3z M503.0 230.9h3V241.5h-3z M495.0 230.9h3V233.8h-3z M479.0 237.4h3V255.2h-3z M475.0 235.5h3V241.5h-3z M459.0 258.5h3V262.0h-3z M455.0 254.7h3V259.3h-3z M447.0 269.6h3V277.8h-3z M435.0 280.8h3V293.5h-3z M415.0 305.8h3V313.7h-3z M403.0 309.0h3V325.5h-3z M387.0 323.9h3V337.9h-3z M383.0 323.0h3V327.2h-3z M379.0 306.2h3V324.0h-3z M375.0 296.0h3V308.4h-3z M359.0 310.8h3V319.0h-3z M351.0 320.7h3V324.8h-3z M347.0 311.7h3V324.0h-3z M343.0 307.6h3V312.2h-3z M327.0 329.0h3V334.7h-3z M323.0 324.0h3V332.2h-3z M319.0 306.0h3V326.5h-3z M315.0 282.0h3V306.7h-3z M311.0 275.5h3V282.0h-3z M295.0 289.4h3V299.1h-3z M291.0 274.6h3V296.0h-3z M287.0 269.6h3V278.1h-3z M279.0 266.0h3V279.5h-3z M275.0 269.6h3V272.6h-3z M259.0 263.0h3V314.8h-3z M247.0 274.5h3V282.0h-3z M243.0 272.6h3V277.0h-3z M231.0 283.0h3V304.5h-3z M227.0 277.5h3V285.2h-3z M219.0 276.5h3V280.3h-3z M207.0 285.8h3V288.7h-3z M171.0 333.8h3V355.5h-3z M163.0 339.9h3V347.3h-3z M159.0 335.0h3V340.7h-3z M155.0 330.0h3V335.5h-3z M151.0 327.6h3V330.9h-3z M131.0 378.9h3V385.3h-3z M127.0 364.0h3V382.3h-3z M123.0 352.2h3V361.6h-3z M119.0 343.8h3V353.2h-3z M107.0 357.6h3V359.2h-3z M87.0 353.1h3V366.3h-3z M75.0 366.7h3V379.0h-3z M67.0 371.2h3V383.6h-3z M51.0 404.9h3V408.3h-3z M39.0 424.3h3V428.3h-3z M35.0 415.0h3V426.5h-3z M23.0 394.4h3V419.0h-3z M15.0 397.4h3V400.2h-3z M7.0 396.9h3V403.5h-3z M3.0 378.0h3V401.0h-3z" fill="#ff0000"/>
<path class="bb" d="M4.0 337.4C4.7 337.6 6.7 337.4 8.2 338.5C9.7 339.6 11.3 342.4 13.2 344.3C15.1 346.2 17.5 348.9 19.7 350.0C21.9 351.1 24.4 350.0 26.3 351.2C28.2 352.4 29.3 354.7 31.2 357.4C33.2 360.1 35.3 363.7 37.8 367.3C40.3 370.9 43.5 375.7 46.0 378.8C48.5 381.9 50.8 384.4 52.6 386.2C54.4 388.0 55.3 390.1 56.7 389.5C58.1 388.9 59.4 385.1 60.9 382.5C62.4 379.9 63.9 377.0 65.8 373.9C67.7 370.8 70.2 367.3 72.4 364.0C74.6 360.7 77.1 356.9 79.0 354.0C80.9 351.1 82.3 348.2 83.9 346.5C85.5 344.8 86.9 344.2 88.8 343.8C90.7 343.4 93.1 344.1 95.4 344.3C97.7 344.5 100.3 343.9 102.5 344.8C104.7 345.7 106.6 349.2 108.3 349.5C110.0 349.8 111.0 347.7 112.4 346.4C113.8 345.1 114.9 342.4 116.5 341.8C118.1 341.2 120.2 342.9 122.2 342.8C124.2 342.7 126.4 341.6 128.5 341.0C130.6 340.4 132.8 339.5 135.0 339.3C137.2 339.1 139.7 340.5 141.4 339.9C143.2 339.3 144.1 338.1 145.5 335.8C146.9 333.5 148.1 328.5 149.6 325.9C151.1 323.3 152.3 321.7 154.5 320.2C156.7 318.7 159.8 317.9 162.8 316.9C165.8 315.9 169.9 314.6 172.6 314.0C175.3 313.4 177.0 313.0 179.2 313.6C181.4 314.2 183.9 316.6 185.8 317.7C187.7 318.8 189.0 320.8 190.7 320.2C192.3 319.6 194.0 317.0 195.7 314.4C197.3 311.8 199.0 308.8 200.6 304.5C202.2 300.2 203.8 293.1 205.3 288.7C206.8 284.3 208.0 282.3 209.8 278.0C211.7 273.7 214.2 266.6 216.4 263.0C218.6 259.4 220.9 257.7 223.0 256.4C225.1 255.1 226.6 254.6 228.8 255.0C231.0 255.4 233.6 257.5 236.2 259.0C238.8 260.5 242.2 262.6 244.4 263.8C246.6 265.0 247.7 266.6 249.3 266.3C251.0 266.0 252.4 264.0 254.3 262.2C256.2 260.4 258.7 256.7 260.9 255.6C263.1 254.5 264.9 255.9 267.4 255.6C269.9 255.3 272.4 254.4 275.7 254.0C279.0 253.6 282.9 253.0 287.2 253.2C291.5 253.4 297.9 253.9 301.4 255.0C304.9 256.1 306.1 258.4 308.0 259.9C309.9 261.4 311.0 264.4 312.9 264.0C314.8 263.6 317.3 259.1 319.5 257.4C321.7 255.7 323.8 253.9 326.0 253.6C328.2 253.3 330.1 253.7 332.6 255.8C335.1 257.9 337.9 263.7 340.9 266.4C343.9 269.1 348.4 270.6 350.7 272.2C353.0 273.8 353.5 273.6 354.8 275.8C356.1 278.1 357.6 282.2 358.8 285.7C359.9 289.1 360.8 293.6 361.7 296.5C362.6 299.4 363.4 301.7 364.2 303.0C365.0 304.3 365.9 304.3 366.7 304.4C367.5 304.5 368.2 304.2 369.0 303.4C369.8 302.6 370.8 300.6 371.6 299.5C372.4 298.4 372.6 297.5 373.6 297.0C374.6 296.5 376.0 296.3 377.5 296.5C379.0 296.7 380.8 298.1 382.4 298.0C384.0 297.9 385.9 296.2 387.4 296.0C388.9 295.8 389.8 296.2 391.3 296.5C392.8 296.8 394.9 298.0 396.3 298.0C397.8 298.0 398.6 296.8 400.0 296.5C401.4 296.2 402.0 296.2 404.4 296.0C406.8 295.8 411.1 295.6 414.3 295.0C417.5 294.4 420.9 294.1 423.3 292.6C425.8 291.1 427.5 287.9 429.0 286.0C430.5 284.1 430.2 282.8 432.4 281.0C434.6 279.2 439.8 277.6 442.2 275.4C444.6 273.2 445.4 271.2 447.0 268.0C448.6 264.8 450.1 259.0 451.7 256.0C453.3 253.0 454.2 252.6 456.4 250.0C458.6 247.4 462.5 243.4 464.7 240.7C466.9 238.0 467.7 236.3 469.6 234.0C471.5 231.7 473.5 228.2 476.2 226.7C478.9 225.2 483.0 225.5 486.0 225.0C489.0 224.5 491.6 224.4 494.3 223.5C497.1 222.6 500.1 220.6 502.5 219.3C504.9 218.1 507.4 217.1 509.0 216.0C510.6 214.9 510.8 214.6 512.3 212.8C513.8 211.0 516.0 207.3 518.0 205.2C520.0 203.1 521.8 201.2 524.3 200.0C526.8 198.8 529.8 198.7 532.9 198.0C536.0 197.3 540.3 197.1 542.8 196.1C545.3 195.1 546.2 193.7 547.7 192.2C549.2 190.7 550.1 188.6 551.8 187.0C553.4 185.4 556.1 184.3 557.6 182.5C559.1 180.7 559.9 178.5 561.0 176.0C562.1 173.5 563.0 170.7 564.4 167.6C565.8 164.5 567.1 160.6 569.3 157.7C571.5 154.8 574.9 152.4 577.6 150.3C580.4 148.2 583.3 147.6 585.8 145.4C588.3 143.2 590.2 139.1 592.4 137.0C594.6 134.9 596.5 134.1 599.0 133.0C601.5 131.9 603.7 131.2 607.2 130.6C610.7 130.0 616.2 129.7 620.0 129.4C623.8 129.1 627.2 129.1 629.9 128.8C632.6 128.5 634.6 129.3 636.4 127.4C638.2 125.5 639.2 120.6 640.6 117.6C642.0 114.6 642.7 112.5 644.7 109.3C646.8 106.1 650.7 100.8 652.9 98.2C655.1 95.6 656.0 94.7 657.8 93.7C659.6 92.7 661.1 91.7 663.6 92.0C666.1 92.3 670.4 96.6 672.6 95.4C674.8 94.2 675.1 89.2 676.7 84.7C678.4 80.2 680.6 71.9 682.5 68.2C684.4 64.5 686.4 62.5 688.3 62.5C690.2 62.5 691.7 65.3 694.0 68.2C696.3 71.1 699.5 73.4 702.2 79.7C705.0 86.0 708.1 97.4 710.5 106.0C712.9 114.6 714.8 124.3 716.5 131.5C718.2 138.7 719.2 145.3 721.0 149.0C722.8 152.7 724.3 153.1 727.0 153.7C729.7 154.2 733.7 153.6 737.0 152.3C740.3 151.0 743.7 147.7 747.0 146.0C750.3 144.3 754.3 142.5 757.0 142.0C759.7 141.5 760.9 140.8 763.0 143.0C765.1 145.2 767.6 150.5 769.5 155.0C771.4 159.5 772.8 163.9 774.5 170.0C776.2 176.1 779.1 187.9 780.0 191.5"/>
<path class="bb" d="M4.0 397.7C5.0 398.8 7.8 402.4 9.9 404.3C12.0 406.2 14.5 407.3 16.4 409.2C18.3 411.1 19.8 413.3 21.4 415.8C23.0 418.3 24.4 421.8 26.3 424.0C28.2 426.2 30.7 427.5 32.9 429.0C35.1 430.5 37.6 431.9 39.5 433.0C41.4 434.1 42.5 435.6 44.4 435.5C46.3 435.4 48.8 432.9 51.0 432.2C53.2 431.5 55.1 430.4 57.6 431.4C60.1 432.4 63.2 436.2 65.8 438.0C68.4 439.8 71.0 441.7 73.2 442.0C75.4 442.3 77.0 440.8 79.0 439.6C81.0 438.4 83.2 437.4 85.0 435.0C86.8 432.6 88.3 428.3 90.0 425.0C91.7 421.7 93.2 418.8 95.0 415.0C96.8 411.2 98.7 406.6 100.5 402.0C102.3 397.4 104.1 390.8 105.8 387.6C107.5 384.4 108.9 383.6 110.7 382.6C112.5 381.6 114.8 382.7 116.5 381.8C118.2 380.9 118.8 378.1 120.6 377.4C122.4 376.7 125.3 376.8 127.2 377.7C129.1 378.6 129.9 381.1 132.0 382.6C134.1 384.1 137.2 385.6 140.0 386.7C142.8 387.8 145.3 388.4 148.5 389.0C151.7 389.6 155.0 390.0 159.0 390.3C163.0 390.6 169.3 391.9 172.7 391.0C176.1 390.1 177.4 388.5 179.6 385.0C181.8 381.5 183.7 374.9 185.8 370.0C187.9 365.1 190.5 357.4 192.4 355.5C194.3 353.6 195.7 356.9 197.3 358.8C198.9 360.7 200.6 365.2 202.2 367.0C203.8 368.8 204.7 369.4 207.0 369.5C209.3 369.6 213.1 369.8 216.0 367.8C218.9 365.8 221.8 362.0 224.5 357.4C227.2 352.8 229.8 345.3 232.0 340.0C234.2 334.7 236.0 330.1 237.8 325.5C239.6 320.9 241.2 316.2 242.8 312.4C244.5 308.6 246.1 304.8 247.7 302.5C249.3 300.2 251.1 298.5 252.6 298.4C254.1 298.3 255.5 300.2 256.7 301.7C257.9 303.2 258.5 306.2 260.0 307.4C261.5 308.6 263.7 308.4 265.8 309.0C267.9 309.6 270.2 310.8 272.4 311.0C274.6 311.2 277.1 310.8 279.0 310.0C280.9 309.2 282.1 306.8 283.9 306.0C285.7 305.2 287.7 305.0 289.6 305.2C291.5 305.4 293.4 306.3 295.4 307.4C297.4 308.4 299.3 311.1 301.4 311.5C303.5 311.9 306.1 311.5 308.0 310.0C309.9 308.5 311.3 302.2 312.9 302.6C314.5 303.0 316.1 308.4 317.8 312.5C319.5 316.6 321.2 322.9 322.8 327.3C324.4 331.7 326.1 335.9 327.7 338.8C329.3 341.8 330.1 343.6 332.6 345.0C335.1 346.4 339.5 346.4 342.5 347.0C345.5 347.6 348.2 349.2 350.7 348.7C353.2 348.2 355.1 345.7 357.3 343.8C359.5 341.8 361.4 338.6 363.9 337.2C366.3 335.8 369.1 336.3 372.0 335.5C374.9 334.7 377.9 332.0 381.4 332.5C384.9 333.0 389.9 337.3 393.0 338.7C396.1 340.1 397.7 340.5 400.0 341.0C402.3 341.5 403.5 341.8 407.0 341.5C410.5 341.2 416.9 339.8 421.0 339.5C425.1 339.2 428.6 340.8 431.4 340.0C434.2 339.2 435.4 336.7 438.0 335.0C440.6 333.3 444.4 330.4 447.0 329.6C449.6 328.9 451.6 331.2 453.8 330.5C456.0 329.8 458.0 327.4 460.0 325.5C462.0 323.6 463.6 322.7 466.0 319.3C468.4 315.9 471.8 310.6 474.6 305.4C477.4 300.2 480.4 292.6 483.0 288.0C485.6 283.4 487.4 281.2 490.0 278.0C492.6 274.8 495.8 271.7 498.4 269.0C501.0 266.3 503.2 263.7 505.8 262.0C508.4 260.3 511.3 259.8 514.0 259.0C516.7 258.2 519.5 258.6 522.2 257.5C525.0 256.4 527.9 254.3 530.5 252.2C533.1 250.1 535.7 246.9 538.0 245.0C540.3 243.1 542.0 242.2 544.4 240.7C546.8 239.2 550.3 237.9 552.6 235.8C554.9 233.8 556.5 228.7 558.4 228.4C560.3 228.1 561.7 233.6 564.0 234.0C566.3 234.4 569.6 232.2 572.4 230.9C575.2 229.6 578.4 228.1 580.6 225.9C582.8 223.7 583.7 220.6 585.5 217.7C587.3 214.8 589.2 212.0 591.5 208.5C593.8 205.0 596.6 200.6 599.5 196.5C602.4 192.4 606.3 187.0 608.8 184.0C611.3 181.0 612.7 179.6 614.6 178.3C616.5 177.0 617.7 178.3 620.0 176.0C622.3 173.7 625.5 168.0 628.2 164.7C630.9 161.4 634.5 157.2 636.4 156.4C638.3 155.6 637.6 158.6 639.7 159.7C641.8 160.8 645.8 162.8 648.8 163.0C651.8 163.2 654.9 162.2 657.8 160.6C660.7 159.0 663.5 155.9 666.0 153.2C668.5 150.4 670.9 143.6 672.6 144.1C674.3 144.6 674.6 149.4 676.0 156.4C677.4 163.4 679.3 177.2 680.9 186.0C682.5 194.8 684.2 203.2 685.8 209.0C687.4 214.8 688.5 217.0 690.7 220.6C692.9 224.2 696.2 227.8 699.0 230.5C701.8 233.2 705.0 236.2 707.2 237.0C709.4 237.8 710.4 237.3 712.0 235.4C713.6 233.5 715.2 228.9 717.0 225.5C718.8 222.1 721.2 217.8 723.0 215.0C724.8 212.2 726.2 210.0 728.0 209.0C729.8 208.0 732.2 208.5 734.0 209.0C735.8 209.5 737.7 210.7 739.0 212.0C740.3 213.3 740.7 213.5 742.0 217.0C743.3 220.5 745.3 228.2 747.0 233.0C748.7 237.8 750.2 241.7 752.0 246.0C753.8 250.3 755.8 255.9 757.6 259.0C759.4 262.1 761.3 263.3 763.0 264.5C764.7 265.7 766.0 266.8 768.0 266.0C770.0 265.2 772.7 262.7 774.8 260.0C776.9 257.3 779.5 251.3 780.5 249.6"/>
<path class="bbm" d="M4.0 366.4C5.5 367.8 10.0 371.5 13.2 374.7C16.4 377.9 19.7 381.6 23.0 385.4C26.3 389.2 29.9 394.6 32.9 397.7C35.9 400.8 38.5 402.4 41.0 404.0C43.5 405.6 45.5 406.6 48.0 407.5C50.5 408.4 53.7 409.1 56.0 409.1C58.3 409.1 59.7 408.2 62.0 407.3C64.3 406.4 66.7 405.6 69.6 403.5C72.5 401.4 76.5 397.9 79.5 395.0C82.5 392.1 85.0 389.1 87.7 386.0C90.5 382.9 93.3 379.2 96.0 376.5C98.7 373.8 101.3 371.6 104.0 369.5C106.7 367.4 109.6 365.2 112.4 363.7C115.2 362.2 117.8 360.9 120.6 360.4C123.4 359.8 126.3 359.8 129.5 360.4C132.7 360.9 136.6 363.8 139.7 363.7C142.8 363.6 145.2 361.1 148.0 359.6C150.8 358.1 153.2 355.9 156.2 354.7C159.2 353.5 162.7 352.9 166.0 352.2C169.3 351.5 173.2 351.7 176.0 350.6C178.8 349.5 179.8 348.2 182.5 345.7C185.2 343.2 189.3 338.2 192.4 335.8C195.5 333.4 197.9 334.0 201.0 331.5C204.1 329.0 207.7 324.2 211.0 320.7C214.3 317.2 217.3 314.6 221.0 310.5C224.7 306.4 229.6 299.8 232.9 296.0C236.2 292.2 238.3 290.0 241.0 287.7C243.7 285.4 246.5 283.5 249.3 282.4C252.1 281.3 254.3 281.0 257.6 281.0C260.9 281.0 264.9 282.4 269.0 282.4C273.1 282.4 278.6 281.3 282.2 281.0C285.8 280.7 287.3 280.2 290.5 280.5C293.7 280.8 298.2 282.4 301.4 282.9C304.6 283.4 306.9 283.3 309.6 283.7C312.3 284.1 315.1 283.8 317.8 285.4C320.5 287.0 323.2 290.7 326.0 293.6C328.8 296.5 331.0 300.3 334.3 302.6C337.6 304.9 342.5 305.8 345.8 307.6C349.1 309.4 351.3 311.5 354.0 313.3C356.7 315.1 359.4 317.6 362.2 318.5C364.9 319.4 367.3 319.2 370.5 318.7C373.7 318.2 377.6 316.1 381.4 315.7C385.1 315.2 388.4 316.3 393.0 316.0C397.6 315.7 403.8 314.3 409.3 314.0C414.8 313.7 421.7 315.1 425.8 314.3C429.9 313.5 430.7 311.8 434.0 309.0C437.3 306.2 441.2 301.4 445.5 297.6C449.8 293.8 455.6 290.6 460.0 286.0C464.4 281.4 467.1 275.4 472.0 270.0C476.9 264.6 484.1 258.4 489.3 253.9C494.5 249.4 498.5 246.0 503.0 243.0C507.5 240.0 512.4 238.1 516.4 235.8C520.4 233.5 524.2 230.8 527.0 229.0C529.8 227.2 530.8 226.6 533.0 225.0C535.2 223.4 537.8 221.0 540.0 219.5C542.2 218.0 543.5 217.8 546.0 216.0C548.5 214.2 551.2 212.0 555.0 208.5C558.8 205.0 564.5 199.2 569.0 195.0C573.5 190.8 578.1 186.9 582.2 183.2C586.3 179.4 590.4 176.2 593.8 172.5C597.1 168.8 599.2 164.0 602.2 161.0C605.2 158.0 609.0 155.9 612.0 154.4C615.0 152.9 615.9 154.2 620.0 152.2C624.1 150.2 630.9 145.8 636.4 142.2C641.9 138.6 648.0 133.8 652.9 130.7C657.8 127.5 662.4 124.9 666.0 123.3C669.6 121.7 672.1 120.6 674.3 120.9C676.5 121.2 676.8 121.9 679.2 125.0C681.7 128.1 686.0 135.3 689.0 139.5C692.0 143.7 694.5 146.1 697.3 150.0C700.0 153.9 703.2 159.4 705.5 163.0C707.8 166.6 708.6 168.9 711.0 171.7C713.4 174.5 717.7 178.2 720.0 180.0C722.3 181.8 721.7 181.8 724.7 182.2C727.7 182.6 732.9 180.0 737.8 182.2C742.7 184.4 749.1 190.9 754.3 195.4C759.5 199.9 764.7 205.3 769.0 209.3C773.3 213.3 778.2 217.5 780.0 219.2"/>
<path class="ma" d="M4.0 380.4C5.0 380.3 7.3 380.4 9.9 380.0C12.5 379.6 15.9 378.5 19.7 378.3C23.5 378.1 29.2 378.4 32.9 378.8C36.6 379.2 38.8 379.7 42.0 380.5C45.2 381.3 48.5 382.6 52.0 383.5C55.5 384.4 59.3 385.0 63.0 385.6C66.7 386.2 70.2 386.7 74.0 387.2C77.8 387.7 82.5 388.4 86.0 388.7C89.5 389.0 91.7 389.0 95.0 388.9C98.3 388.8 102.3 388.4 105.8 387.9C109.2 387.4 112.4 386.5 115.7 385.9C119.0 385.2 122.8 384.8 125.5 384.0C128.2 383.2 129.6 381.8 132.0 381.3C134.4 380.8 137.3 381.7 140.0 381.0C142.7 380.3 145.2 378.8 148.0 377.0C150.8 375.2 153.4 372.5 157.0 370.0C160.6 367.5 165.1 364.3 169.3 362.0C173.6 359.7 178.4 357.9 182.5 356.3C186.6 354.7 190.2 354.2 194.0 352.2C197.8 350.1 202.3 346.1 205.5 344.0C208.7 341.9 209.8 341.4 213.0 339.5C216.2 337.6 220.6 335.2 224.7 332.9C228.8 330.6 233.7 328.5 237.8 325.5C241.9 322.5 246.0 317.7 249.3 314.8C252.6 311.9 254.9 309.8 257.6 308.2C260.4 306.8 263.1 306.9 265.8 305.8C268.5 304.7 271.3 303.1 274.0 301.7C276.7 300.3 279.4 299.0 282.2 297.5C285.0 296.0 287.8 294.1 291.0 292.5C294.2 290.9 298.3 289.3 301.4 287.8C304.5 286.3 306.9 284.4 309.6 283.7C312.3 283.0 314.5 282.9 317.8 283.7C321.1 284.4 324.6 286.6 329.3 288.2C334.0 289.8 340.3 291.4 345.8 293.0C351.3 294.6 358.2 296.7 362.2 297.7C366.2 298.7 366.8 298.6 370.0 299.2C373.2 299.8 377.6 300.1 381.4 301.5C385.2 302.9 389.2 305.9 393.0 307.4C396.8 308.9 400.8 309.7 404.4 310.7C407.9 311.7 410.7 312.6 414.3 313.2C417.9 313.8 422.0 314.0 425.8 314.0C429.6 314.0 433.7 314.0 437.3 313.2C440.9 312.4 443.4 310.9 447.2 309.0C451.0 307.1 455.1 303.8 460.0 301.5C464.9 299.2 471.4 297.5 476.4 295.0C481.4 292.5 485.4 289.6 490.0 286.4C494.6 283.2 500.6 278.7 504.0 276.0C507.4 273.3 507.1 272.9 510.3 270.0C513.5 267.1 519.9 261.5 523.5 258.4C527.1 255.3 529.1 253.9 532.0 251.4C534.9 248.9 536.7 247.1 541.0 243.5C545.3 239.9 552.6 234.0 557.6 230.0C562.6 226.0 566.0 222.8 570.7 219.3C575.4 215.8 581.1 212.6 585.6 209.0C590.1 205.4 594.1 201.5 598.0 198.0C601.9 194.5 605.1 191.0 608.8 188.0C612.5 185.0 616.5 183.0 620.0 180.2C623.5 177.4 625.8 174.4 629.9 171.3C634.0 168.2 639.5 165.5 644.7 161.4C649.9 157.3 656.6 149.9 661.0 146.6C665.4 143.2 667.4 142.3 671.0 141.3C674.6 140.3 679.2 140.4 682.5 140.8C685.8 141.2 687.5 142.9 690.7 143.6C694.0 144.3 698.5 144.2 702.0 145.0C705.5 145.8 709.0 147.1 712.0 148.2C715.0 149.3 717.0 150.5 720.0 151.5C723.0 152.5 727.2 153.2 730.0 154.0C732.8 154.8 734.6 155.5 737.0 156.5C739.4 157.5 739.9 156.7 744.4 160.0C748.9 163.3 758.1 171.1 764.0 176.4C769.9 181.7 777.3 189.4 780.0 192.0"/>
<path d="M511 205.2L789 210" stroke="#8c0808" stroke-width="1.1" fill="none"/>
<rect x="8" y="194.5" width="136" height="4.5" fill="#8c8c8c"/><rect x="140" y="188" width="4.5" height="10.5" fill="#8c8c8c"/><rect x="4" y="184" width="136" height="10.5" fill="#fff"/><text class="mono" text-anchor="middle" x="5.5 10.5 15.5 20.5 25.5 30.5 35.5 40.5 45.5 50.5 55.5 60.5 65.5 70.5 75.5 80.5 85.5 90.5 95.5 100.5 105.5 110.5 115.5 120.5 125.5 130.5 135.5" y="192.7" font-size="9.2"  xml:space="preserve">Moving Average (C,30,S,0,0)</text>
<rect x="8" y="222.0" width="146" height="4.5" fill="#8c8c8c"/><rect x="150" y="215.5" width="4.5" height="10.5" fill="#8c8c8c"/><rect x="4" y="211.5" width="146" height="10.5" fill="#fff"/><text class="mono" text-anchor="middle" x="5.5 10.5 15.5 20.5 25.5 30.5 35.5 40.5 45.5 50.5 55.5 60.5 65.5 70.5 75.5 80.5 85.5 90.5 95.5 100.5 105.5 110.5 115.5 120.5 125.5 130.5 135.5 140.5 145.5" y="220.2" font-size="9.2"  xml:space="preserve">Bollinger Bands (C, 13, S, 2)</text>
</g>
<g clip-path="url(#cp)">
<path class="tl" d="M39.5 432.6L827 230.6"/><circle cx="39.8" cy="432.4" r="1.6" fill="#000"/>
<path class="tl" d="M652.6 98.2L827 243.9"/><circle cx="652.8" cy="98.4" r="1.6" fill="#000"/>
<path class="tl" style="stroke-width:2" d="M510.7 202.5L827 217.5"/><circle cx="511" cy="202.6" r="1.5" fill="#000"/>
</g>
<g clip-path="url(#cr)">
<rect x="8" y="519.8" width="206.7" height="4.5" fill="#8c8c8c"/><rect x="210.7" y="515" width="4.5" height="8.8" fill="#8c8c8c"/>
<path d="M5.0 520.8 L10.0 523.0 L16.0 525.0 L23.0 527.4 L29.6 525.7 L34.5 529.0 L40.3 531.5 L44.4 524.0 L52.0 512.0 L58.4 502.7 L60.9 492.8 L64.0 487.9 L67.4 493.7 L72.4 489.5 L76.5 495.3 L80.6 489.5 L85.5 485.4 L88.8 490.4 L93.8 492.0 L100.0 489.5 L106.6 488.7 L111.5 483.0 L116.4 479.7 L119.7 486.2 L123.0 497.8 L127.0 506.0 L135.4 508.5 L141.0 501.0 L145.2 487.9 L149.3 480.5 L154.3 483.8 L158.4 490.4 L165.8 492.0 L170.0 490.4 L172.4 504.3 L176.5 497.0 L185.5 493.7 L190.5 487.9 L195.4 481.3 L200.0 477.0 L205.0 470.6 L209.9 472.3 L216.4 468.2 L224.7 469.8 L228.8 478.0 L232.0 483.8 L232.9 495.3 L237.0 485.4 L241.0 481.3 L249.3 482.0 L254.3 478.8 L256.7 483.0 L259.2 497.8 L260.9 511.7 L263.3 504.3 L269.0 498.6 L272.4 492.8 L277.3 490.9 L282.2 495.3 L287.2 493.7 L291.3 501.0 L295.4 507.6 L300.0 508.0 L303.3 502.7 L308.2 498.0 L312.3 501.0 L315.6 511.0 L319.7 522.4 L326.3 527.0 L332.0 523.2 L337.0 512.6 L342.0 511.0 L347.7 517.5 L352.6 516.7 L357.6 511.7 L364.0 512.6 L369.0 503.5 L372.4 498.6 L375.7 504.3 L379.0 512.6 L383.9 517.5 L388.8 523.2 L392.0 515.9 L397.0 512.6 L400.0 507.0 L406.6 509.3 L412.3 501.9 L416.4 505.2 L421.4 499.4 L426.3 492.0 L432.0 488.7 L435.4 495.3 L441.0 490.4 L445.2 486.2 L448.5 490.4 L453.5 479.7 L458.4 483.0 L464.0 478.0 L469.0 474.0 L473.2 474.7 L477.3 482.0 L481.4 489.5 L485.5 484.6 L490.5 479.7 L495.4 479.7 L500.0 477.5 L503.3 483.8 L506.6 487.0 L509.0 478.0 L512.3 474.0 L516.4 478.0 L521.4 478.8 L524.7 475.6 L528.8 482.0 L532.9 489.5 L537.8 484.6 L542.0 487.0 L547.7 480.5 L552.6 476.0 L558.4 474.0 L564.0 466.5 L567.4 473.0 L572.4 477.2 L577.3 478.0 L582.2 474.0 L587.2 472.3 L592.0 470.6 L597.0 469.8 L600.0 474.0 L606.0 478.5 L613.0 480.5 L618.0 481.3 L623.8 472.3 L626.3 478.0 L628.8 487.0 L631.2 479.7 L637.8 476.4 L641.0 471.4 L646.0 472.3 L651.0 470.0 L656.7 469.0 L659.2 481.3 L662.5 484.6 L665.0 481.3 L667.4 492.8 L670.7 495.3 L673.2 504.3 L675.7 520.8 L679.0 529.8 L683.9 536.4 L687.2 532.3 L690.5 524.0 L693.8 516.7 L697.0 516.7 L700.0 521.0 L705.0 524.9 L709.9 521.6 L712.3 510.9 L716.4 506.8 L723.0 506.0 L727.0 505.2 L729.6 511.7 L732.9 520.8 L739.5 524.0 L742.8 532.3 L746.0 537.2 L756.0 538.9 L762.5 535.6 L765.8 534.0 L768.2 524.0 L770.7 521.6 L775.7 524.0 L780.6 525.0" stroke="#008080" stroke-width="1" stroke-dasharray="3 2" fill="none"/>
<path d="M4.0 494.5C5.2 495.0 10.2 496.9 13.0 498.0C15.8 499.1 21.2 501.3 24.7 502.7C28.2 504.1 36.2 507.7 39.5 508.5C42.8 509.3 46.4 508.6 49.3 508.5C52.2 508.4 58.0 508.4 60.9 508.0C63.8 507.6 67.9 506.4 70.7 505.7C73.5 505.0 79.4 503.4 82.2 502.7C85.0 502.0 89.6 501.0 92.0 500.7C94.4 500.4 97.8 500.6 100.0 500.2C102.2 499.8 105.8 498.6 108.2 498.0C110.6 497.4 115.8 496.0 118.0 495.8C120.2 495.6 122.7 496.0 124.7 496.4C126.7 496.8 130.7 498.6 132.9 499.0C135.1 499.4 138.8 499.7 141.0 499.4C143.2 499.1 147.1 497.7 149.3 497.0C151.5 496.3 155.0 494.9 157.6 494.5C160.2 494.1 165.7 494.0 169.0 494.0C172.3 494.0 179.1 494.5 182.2 494.5C185.3 494.5 189.6 494.3 192.0 494.0C194.4 493.7 197.6 493.1 200.0 492.5C202.4 491.9 207.7 490.2 209.9 489.5C212.1 488.8 214.4 487.6 216.4 487.0C218.4 486.4 222.5 485.3 224.7 485.0C226.9 484.7 230.1 485.0 232.9 485.0C235.7 485.0 243.1 485.1 246.0 485.0C248.9 484.9 252.5 484.1 254.3 484.3C256.1 484.5 257.7 485.8 259.2 486.2C260.7 486.7 263.6 487.6 265.8 487.9C268.0 488.2 272.6 488.5 275.7 488.7C278.8 488.9 286.2 488.7 288.8 489.2C291.4 489.7 293.9 492.0 295.4 492.5C296.9 493.0 298.1 493.1 300.0 493.3C301.9 493.5 307.7 493.4 309.9 493.7C312.1 494.0 314.4 494.5 316.4 495.3C318.4 496.1 322.5 498.4 324.7 499.4C326.9 500.4 330.5 502.1 332.9 502.7C335.3 503.3 340.2 503.6 342.8 504.0C345.4 504.4 349.5 505.6 352.6 506.0C355.7 506.4 362.7 507.2 365.8 507.3C368.9 507.4 373.1 506.7 375.7 506.8C378.3 506.9 383.3 507.7 385.5 508.0C387.7 508.3 390.1 508.8 392.0 509.0C393.9 509.2 397.6 509.2 400.0 509.2C402.4 509.2 406.8 509.2 409.9 509.0C413.0 508.8 419.9 508.2 423.0 507.6C426.1 507.0 429.8 505.5 432.9 504.7C436.0 503.9 442.9 502.7 446.0 501.9C449.1 501.1 453.6 499.7 456.0 499.0C458.4 498.3 461.8 497.7 464.0 497.0C466.2 496.3 470.0 494.6 472.4 494.0C474.8 493.4 479.6 492.9 482.2 492.5C484.8 492.1 489.6 491.3 492.0 490.9C494.4 490.5 497.4 489.9 500.0 489.5C502.6 489.1 508.2 488.3 511.5 487.9C514.8 487.5 521.2 486.6 524.7 486.2C528.2 485.9 534.5 485.6 537.8 485.4C541.1 485.2 546.7 484.9 549.3 484.6C551.9 484.3 555.4 483.4 557.6 483.0C559.8 482.6 562.9 481.6 565.8 481.3C568.7 481.0 575.7 480.8 579.0 480.5C582.3 480.2 587.7 479.6 590.5 479.3C593.3 479.0 596.5 478.3 600.0 478.2C603.5 478.1 611.4 478.4 616.4 478.4C621.4 478.4 633.4 478.6 637.8 478.4C642.2 478.2 646.0 476.9 649.3 476.7C652.6 476.5 659.4 476.3 662.5 476.7C665.6 477.1 670.2 478.6 672.4 479.7C674.6 480.8 677.3 483.2 679.0 484.6C680.7 486.0 683.5 488.6 685.5 489.9C687.5 491.2 691.8 493.7 693.8 494.5C695.7 495.3 698.1 495.2 700.0 496.0C701.9 496.8 705.6 500.0 708.2 500.7C710.8 501.4 716.8 501.1 719.7 501.4C722.6 501.7 727.0 502.0 729.6 502.7C732.2 503.4 736.6 505.5 739.5 506.8C742.4 508.1 748.4 511.0 751.0 512.2C753.6 513.4 757.2 514.8 759.2 515.5C761.2 516.2 763.8 517.0 765.8 517.2C767.8 517.4 772.0 517.2 774.0 517.2C776.0 517.2 779.7 517.2 780.6 517.2" stroke="#0000ff" stroke-width="2.4" fill="none" stroke-linejoin="round"/>
<path d="M4.0 501.9C4.8 502.4 8.2 505.0 9.9 506.0C11.6 507.0 14.5 508.3 16.4 509.5C18.3 510.7 21.6 513.5 24.0 515.0C26.4 516.5 32.0 519.6 34.5 520.5C37.0 521.4 40.6 521.8 43.0 521.8C45.4 521.8 50.3 521.7 52.6 520.5C54.9 519.3 58.2 514.9 60.0 513.0C61.8 511.1 64.1 507.3 65.8 506.0C67.5 504.7 70.4 504.5 72.4 503.5C74.4 502.5 78.4 499.7 80.6 498.6C82.8 497.5 86.2 495.8 88.8 495.3C91.4 494.8 97.4 494.9 100.0 494.5C102.6 494.1 106.2 492.8 108.2 492.0C110.2 491.2 113.4 489.3 114.8 488.7C116.2 488.1 117.7 487.3 119.0 487.6C120.3 487.9 123.1 489.9 124.7 491.2C126.3 492.5 129.7 495.9 131.2 497.0C132.8 498.1 134.7 499.1 136.2 499.4C137.7 499.7 141.1 499.7 142.8 499.0C144.5 498.3 147.5 495.5 149.3 494.5C151.1 493.5 154.2 491.9 156.0 491.5C157.8 491.1 160.8 491.1 162.5 491.2C164.2 491.3 167.5 491.6 169.0 492.0C170.5 492.4 172.2 493.7 174.0 494.0C175.8 494.3 180.0 494.0 182.2 494.0C184.4 494.0 188.7 494.2 190.5 493.7C192.3 493.2 194.1 491.2 195.4 490.4C196.7 489.6 198.3 489.0 200.0 487.9C201.7 486.8 206.0 483.3 208.2 482.0C210.4 480.7 214.6 478.9 216.4 478.0C218.2 477.1 219.9 475.9 221.4 475.6C222.9 475.3 226.5 475.4 228.0 475.9C229.5 476.4 230.9 479.2 232.9 479.7C234.9 480.2 240.8 479.7 242.8 480.0C244.8 480.3 245.9 481.5 247.7 481.6C249.5 481.7 254.2 480.4 256.0 481.0C257.8 481.6 259.4 485.1 260.9 486.2C262.4 487.4 265.4 489.3 267.4 489.9C269.4 490.5 273.3 490.6 275.7 490.9C278.1 491.2 283.3 491.9 285.5 492.5C287.7 493.1 290.5 494.4 292.0 495.3C293.5 496.2 295.9 498.5 297.0 499.0C298.1 499.5 298.1 499.2 300.0 499.2C301.9 499.2 309.3 498.5 311.5 499.0C313.7 499.5 314.6 501.1 316.4 502.7C318.2 504.3 322.7 509.4 324.7 511.0C326.7 512.6 329.1 514.1 331.2 514.5C333.4 514.9 338.2 514.3 341.0 514.2C343.8 514.1 349.3 514.0 352.6 513.9C355.9 513.8 363.4 513.9 365.8 513.4C368.2 512.9 369.5 510.7 370.7 510.0C371.9 509.3 373.5 508.5 374.8 508.5C376.1 508.5 378.9 509.5 380.6 510.0C382.3 510.5 385.4 512.1 387.2 512.6C389.0 513.1 392.0 513.5 393.8 513.4C395.5 513.3 398.1 511.9 400.0 511.7C401.9 511.5 406.2 512.1 408.2 511.7C410.2 511.3 412.8 509.2 414.8 508.5C416.8 507.8 421.0 507.7 423.0 506.8C425.0 505.9 427.4 503.0 429.6 501.9C431.8 500.8 437.3 499.6 439.5 498.6C441.7 497.6 443.8 495.6 446.0 494.5C448.2 493.4 453.6 491.4 456.0 490.4C458.4 489.4 461.8 488.0 464.0 487.0C466.2 486.0 470.4 483.4 472.4 483.0C474.4 482.6 476.8 483.8 479.0 483.8C481.2 483.8 486.4 483.6 488.8 483.3C491.2 483.0 494.4 481.8 497.0 481.6C499.6 481.4 505.6 482.3 508.2 482.0C510.8 481.7 514.0 480.0 516.4 479.7C518.8 479.4 524.1 479.4 526.3 479.7C528.5 480.0 530.7 481.5 532.9 482.0C535.1 482.5 540.4 483.2 542.8 483.3C545.2 483.4 549.0 483.1 551.0 482.6C553.0 482.1 555.6 480.6 557.6 479.7C559.6 478.8 563.8 475.9 565.8 475.6C567.8 475.3 570.2 477.1 572.4 477.2C574.6 477.3 579.6 477.0 582.2 476.7C584.8 476.4 589.6 475.2 592.0 475.0C594.4 474.8 597.6 474.9 600.0 475.0C602.4 475.1 608.2 475.3 609.9 475.6C611.6 475.9 611.0 476.9 613.0 477.2C615.0 477.5 621.4 477.6 624.7 477.7C628.0 477.8 635.0 478.0 637.8 477.7C640.6 477.4 643.6 476.0 646.0 475.6C648.4 475.2 653.6 474.2 656.0 474.4C658.4 474.6 662.0 476.2 664.0 477.2C666.0 478.2 669.1 480.4 670.7 482.0C672.3 483.6 674.4 487.2 675.7 489.5C677.0 491.8 679.3 497.1 680.6 499.4C681.9 501.7 684.0 505.2 685.5 506.8C687.0 508.4 690.1 510.7 692.0 511.7C693.9 512.7 698.3 513.5 700.0 514.2C701.7 514.9 703.5 516.9 705.0 517.2C706.5 517.5 709.5 517.3 711.5 516.7C713.5 516.1 717.6 513.4 719.7 512.6C721.8 511.8 725.2 510.5 727.0 510.6C728.8 510.7 730.8 512.3 732.9 513.4C735.0 514.5 740.2 517.3 742.8 519.0C745.4 520.7 750.4 525.1 752.6 526.5C754.8 527.9 757.7 529.2 759.2 529.8C760.7 530.4 762.5 531.2 764.0 531.0C765.5 530.8 768.9 528.9 770.7 528.2C772.5 527.5 776.0 525.8 777.3 525.4C778.6 525.0 780.2 525.0 780.6 524.9" stroke="#ff0000" stroke-width="2.4" fill="none" stroke-linejoin="round"/>
<rect x="4" y="511" width="206.7" height="8.8" fill="#fff"/><text class="mono" text-anchor="middle" x="5.5 10.5 15.5 20.5 25.5 30.5 35.5 40.5 45.5 50.5 55.5 60.5 65.5 70.5 75.5 80.5 85.5 90.5 95.5 100.5 105.5 110.5 115.5 120.5 125.5 130.5 135.5 140.5 145.5 150.5 155.5 160.5 165.5 170.5 175.5 180.5 185.5 190.5 195.5 200.5 205.5" y="518.0" font-size="9.2"  xml:space="preserve">MA of Relative Strength Index (14, 10,30)</text>
</g>
<rect x="4" y="452.2" width="818.5" height="2.6" fill="#bcbcbc"/>
<path d="M792.5 51V452.2 M792.5 454.8V563.5 M4 549.5H792.5 M784.5 75.5H792.5 M784.5 104.5H792.5 M784.5 133.5H792.5 M784.5 163.5H792.5 M784.5 192.5H792.5 M784.5 221.5H792.5 M784.5 250.5H792.5 M784.5 280.5H792.5 M784.5 309.5H792.5 M784.5 338.5H792.5 M784.5 367.5H792.5 M784.5 397.5H792.5 M784.5 426.5H792.5 M784.5 478.5H792.5 M784.5 493.5H792.5 M784.5 509.5H792.5 M784.5 524.5H792.5 M784.5 540.5H792.5 M8.5 543.5V549.5 M26.5 543.5V549.5 M100.5 543.5V549.5 M113.5 543.5V549.5 M188.5 543.5V549.5 M201.5 543.5V549.5 M276.5 543.5V549.5 M287.5 543.5V549.5 M360.5 543.5V549.5 M377.5 543.5V549.5 M452.5 543.5V549.5 M464.5 543.5V549.5 M540.5 543.5V549.5 M549.5 543.5V549.5 M624.5 543.5V549.5 M637.5 543.5V549.5 M712.5 543.5V549.5 M726.5 543.5V549.5" stroke="#000" stroke-width="1" fill="none" shape-rendering="crispEdges"/>
<g clip-path="url(#cp)">
<text class="mono" text-anchor="middle" x="797.5 802.5 807.5 812.5 817.5 822.5" y="78.9" font-size="9.2"  xml:space="preserve">122.50</text>
<text class="mono" text-anchor="middle" x="797.5 802.5 807.5 812.5 817.5 822.5" y="108.1" font-size="9.2"  xml:space="preserve">121.00</text>
<text class="mono" text-anchor="middle" x="797.5 802.5 807.5 812.5 817.5 822.5" y="137.4" font-size="9.2"  xml:space="preserve">119.50</text>
<text class="mono" text-anchor="middle" x="797.5 802.5 807.5 812.5 817.5 822.5" y="166.7" font-size="9.2"  xml:space="preserve">118.00</text>
<text class="mono" text-anchor="middle" x="797.5 802.5 807.5 812.5 817.5 822.5" y="195.9" font-size="9.2"  xml:space="preserve">116.50</text>
<text class="mono" text-anchor="middle" x="797.5 802.5 807.5 812.5 817.5 822.5" y="225.2" font-size="9.2"  xml:space="preserve">115.00</text>
<text class="mono" text-anchor="middle" x="797.5 802.5 807.5 812.5 817.5 822.5" y="254.4" font-size="9.2"  xml:space="preserve">113.50</text>
<text class="mono" text-anchor="middle" x="797.5 802.5 807.5 812.5 817.5 822.5" y="283.7" font-size="9.2"  xml:space="preserve">112.00</text>
<text class="mono" text-anchor="middle" x="797.5 802.5 807.5 812.5 817.5 822.5" y="312.9" font-size="9.2"  xml:space="preserve">110.50</text>
<text class="mono" text-anchor="middle" x="797.5 802.5 807.5 812.5 817.5 822.5" y="342.2" font-size="9.2"  xml:space="preserve">109.00</text>
<text class="mono" text-anchor="middle" x="797.5 802.5 807.5 812.5 817.5 822.5" y="371.4" font-size="9.2"  xml:space="preserve">107.50</text>
<text class="mono" text-anchor="middle" x="797.5 802.5 807.5 812.5 817.5 822.5" y="400.7" font-size="9.2"  xml:space="preserve">106.00</text>
<text class="mono" text-anchor="middle" x="797.5 802.5 807.5 812.5 817.5 822.5" y="429.9" font-size="9.2"  xml:space="preserve">104.50</text>
<text class="mono" text-anchor="middle" x="797.5 802.5 807.5 812.5" y="482.1" font-size="9.2"  xml:space="preserve">67.0</text>
<text class="mono" text-anchor="middle" x="797.5 802.5 807.5 812.5" y="497.5" font-size="9.2"  xml:space="preserve">57.5</text>
<text class="mono" text-anchor="middle" x="797.5 802.5 807.5 812.5" y="513.0" font-size="9.2"  xml:space="preserve">48.0</text>
<text class="mono" text-anchor="middle" x="797.5 802.5 807.5 812.5" y="528.4" font-size="9.2"  xml:space="preserve">38.5</text>
<text class="mono" text-anchor="middle" x="797.5 802.5 807.5 812.5" y="543.9" font-size="9.2"  xml:space="preserve">29.0</text>
<rect x="794.3" y="212.3" width="28.2" height="10" fill="#a40404"/>
<text class="mono" text-anchor="middle" x="797.5 802.5 807.5 812.5 817.5 822.5" y="220.6" font-size="9.2" fill="#fff" style="stroke:#fff;stroke-width:0.4px" xml:space="preserve">115.20</text>
</g>
<g clip-path="url(#cx)">
<text class="mono" text-anchor="middle" x="1.6 6.5 11.6 16.6" y="558.8" font-size="9.2"  xml:space="preserve">4.25</text>
<text class="mono" text-anchor="middle" x="26.6" y="558.8" font-size="9.2"  xml:space="preserve">5</text>
<text class="mono" text-anchor="middle" x="113.5" y="558.8" font-size="9.2"  xml:space="preserve">6</text>
<text class="mono" text-anchor="middle" x="201.3" y="558.8" font-size="9.2"  xml:space="preserve">7</text>
<text class="mono" text-anchor="middle" x="287.8" y="558.8" font-size="9.2"  xml:space="preserve">8</text>
<text class="mono" text-anchor="middle" x="352.8 357.8 362.8 367.8" y="558.8" font-size="9.2"  xml:space="preserve">8.25</text>
<text class="mono" text-anchor="middle" x="377.8" y="558.8" font-size="9.2"  xml:space="preserve">9</text>
<text class="mono" text-anchor="middle" x="462.3 467.3" y="558.8" font-size="9.2"  xml:space="preserve">10</text>
<text class="mono" text-anchor="middle" x="547.3 552.3" y="558.8" font-size="9.2"  xml:space="preserve">11</text>
<text class="mono" text-anchor="middle" x="635.4 640.4" y="558.8" font-size="9.2"  xml:space="preserve">12</text>
<text class="mono" text-anchor="middle" x="719.1 724.1 729.1 734.1" y="558.8" font-size="9.2"  xml:space="preserve">2006</text>
</g>
<rect x="4" y="564.7" width="818.5" height="20.8" fill="#ece9d8"/>
<rect x="4" y="564.7" width="818.5" height="0.8" fill="#d8d4c4"/>
<rect x="23" y="565.6" width="257" height="17" fill="#f6f4ee"/>
<rect x="5.4" y="565.6" width="17.5" height="17" fill="#efece0"/><path d="M5.4 582.6V565.6H22.9" stroke="#fff" stroke-width="1" fill="none"/><path d="M22.9 565.6V582.6H5.4" stroke="#6e6c60" stroke-width="1" fill="none"/><path d="M21.9 566.6V581.6H6.4" stroke="#b8b4a4" stroke-width="1" fill="none"/>
<rect x="264.3" y="565.6" width="15.5" height="17" fill="#efece0"/><path d="M264.3 582.6V565.6H279.8" stroke="#fff" stroke-width="1" fill="none"/><path d="M279.8 565.6V582.6H264.3" stroke="#6e6c60" stroke-width="1" fill="none"/><path d="M278.8 566.6V581.6H265.3" stroke="#b8b4a4" stroke-width="1" fill="none"/>
<rect x="280.3" y="565.6" width="16.2" height="17" fill="#efece0"/><path d="M280.3 582.6V565.6H296.5" stroke="#fff" stroke-width="1" fill="none"/><path d="M296.5 565.6V582.6H280.3" stroke="#6e6c60" stroke-width="1" fill="none"/><path d="M295.5 566.6V581.6H281.3" stroke="#b8b4a4" stroke-width="1" fill="none"/>
<path d="M15.5 570.5v7.4l-4.3-3.7z" fill="#000"/>
<path d="M286.8 570.5v7.4l4.3-3.7z" fill="#000"/>
<rect x="301.2" y="567.5" width="1" height="15" fill="#aca899"/><rect x="302.2" y="567.5" width="1" height="15" fill="#fff"/>
<text x="309" y="578.2" font-size="9.3" fill="#000" textLength="38" lengthAdjust="spacingAndGlyphs">USD/JPY</text><path d="M349.6 573.7h5.4l-2.7 3z" fill="#000"/>
<text x="363" y="578.2" font-size="9.3" fill="#000" textLength="12.5" lengthAdjust="spacingAndGlyphs">day</text><path d="M378.6 573.7h5.4l-2.7 3z" fill="#000"/>
<text x="391" y="578.2" font-size="9.3" fill="#000" textLength="14.5" lengthAdjust="spacingAndGlyphs">BID</text><path d="M407.8 573.7h5.4l-2.7 3z" fill="#000"/>
<rect x="423.2" y="571.5" width="5.6" height="7.3" fill="#f80000"/><rect x="425.4" y="569" width="1.2" height="12.3" fill="#f80000"/><path d="M431.8 573.7h5.4l-2.7 3z" fill="#000"/>
<rect x="443.2" y="567.5" width="1" height="15" fill="#aca899"/><rect x="444.2" y="567.5" width="1" height="15" fill="#fff"/>
<rect x="447.7" y="567.4" width="15" height="14.6" fill="#fbfaf6"/><path d="M447.7 582V567.4H462.7" stroke="#8c8a7c" stroke-width="1" fill="none"/><path d="M462.7 567.4V582H447.7" stroke="#fff" stroke-width="1" fill="none"/>
<rect x="464.3" y="567.4" width="15" height="14.6" fill="#fbfaf6"/><path d="M464.3 582V567.4H479.3" stroke="#8c8a7c" stroke-width="1" fill="none"/><path d="M479.3 567.4V582H464.3" stroke="#fff" stroke-width="1" fill="none"/>
<rect x="480.9" y="567.4" width="15" height="14.6" fill="#fbfaf6"/><path d="M480.9 582V567.4H495.9" stroke="#8c8a7c" stroke-width="1" fill="none"/><path d="M495.9 567.4V582H480.9" stroke="#fff" stroke-width="1" fill="none"/>
<path d="M451 575h8.5M456.5 572l3 3l-3 3M460.8 570.5v9" stroke="#000" stroke-width="1" fill="none"/>
<path d="M472 570.5v9M469.3 570.5h5.4M469.3 579.5h5.4M470 572.8l2-2.2l2 2.2M470 577.2l2 2.2l2-2.2" stroke="#000" stroke-width="1.1" fill="none"/>
<path d="M486 570v10M491 570v10M483.3 572.8h10.4M483.3 577.2h10.4" stroke="#000" stroke-width="1.05" fill="none"/>
<path d="M500.5 569.5h10M500.5 569.5v11" stroke="#000" stroke-width="1.1" stroke-dasharray="1.2 1.2" fill="none"/>
<path d="M502.5 571.5l7.8 5.2l-3 .3l2.3 3.6l-1.4 .9l-2.3-3.6l-1.9 2.2z" fill="#fff" stroke="#000" stroke-width="0.9"/>
<text x="516" y="577.6" font-size="6.5" fill="#000" stroke="#000" stroke-width="0.3">Q</text>
<rect x="526.8000000000001" y="567.5" width="1" height="15" fill="#aca899"/><rect x="527.8000000000001" y="567.5" width="1" height="15" fill="#fff"/>
<path d="M534.5 568.5l10.5 6.5l-4.2 .6l3.3 5.2l-2 1.2l-3.3-5.2l-2.8 3.1z" fill="#fff" stroke="#000" stroke-width="1.1"/><path d="M546.0999999999999 573.7h5.4l-2.7 3z" fill="#000"/>
<path d="M558.4 574.5l4.2-4.8l3.4 3.8l3.6-4" stroke="#0000f0" stroke-width="1.05" fill="none"/><path d="M561.8 572.5l4.8 8" stroke="#f00000" stroke-width="1.05"/><path d="M560.8 571.5l3.6 1.2l-2.2 2.4z" fill="#f00000"/>
<rect x="574.8" y="569.3" width="4.6" height="3.6" fill="#fff" stroke="#0000f0" stroke-width="1"/><rect x="580.8" y="576.8" width="4.6" height="3.6" fill="#fff" stroke="#0000f0" stroke-width="1"/><path d="M578.6 573.6l3 3" stroke="#f00000" stroke-width="1.4"/>
<rect x="588.6" y="567.5" width="1" height="15" fill="#aca899"/><rect x="589.6" y="567.5" width="1" height="15" fill="#fff"/>
<circle cx="601.3" cy="574" r="4.8" fill="#fff" stroke="#000" stroke-width="1.05"/><path d="M598.8 574h5M601.3 571.5v5" stroke="#f00000" stroke-width="1.05"/><path d="M604.8 577.6l3.2 3.3" stroke="#000" stroke-width="2"/>
<path d="M617.7 569v12" stroke="#000" stroke-width="1"/><path d="M611.7 575h4.5M623.6 575h-4.5" stroke="#f00000" stroke-width="1"/><path d="M614 572.8l2.6 2.2l-2.6 2.2M621.4 572.8l-2.6 2.2l2.6 2.2" stroke="#f00000" stroke-width="1.1" fill="none"/>
<path d="M635.2 569v12M630.5 573.5h9.5" stroke="#000" stroke-width="1.05"/><path d="M629.6 577.5h11.2" stroke="#f00000" stroke-width="1"/><path d="M631.8 575.5l-2.4 2l2.4 2M638.6 575.5l2.4 2l-2.4 2" stroke="#f00000" stroke-width="1.1" fill="none"/>
<path d="M649 569v12M645.6 573h7M645.6 577h7" stroke="#000" stroke-width="1.05"/><path d="M653.6 569.5v11" stroke="#f00000" stroke-width="1"/><path d="M651.6 571.8l2-2.3l2 2.3M651.6 578.2l2 2.3l2-2.3" stroke="#f00000" stroke-width="1.1" fill="none"/>
<path d="M661.5 575h9.4" stroke="#000" stroke-width="1"/><path d="M666.2 569v4.5M666.2 581v-4.5" stroke="#f00000" stroke-width="1"/><path d="M664 571.2l2.2 2.6l2.2-2.6M664 578.8l2.2-2.6l2.2 2.6" stroke="#f00000" stroke-width="1.1" fill="none"/>
<circle cx="682.5" cy="574" r="5" fill="#fff" stroke="#000" stroke-width="1.05"/><path d="M686 577.8l3 3.2" stroke="#000" stroke-width="2"/><path d="M686 570.5l-5.5 4.5M680 575.2h4.6M680 575.2v-4" stroke="#0030e0" stroke-width="1.8" fill="none"/>
<rect x="691.2" y="567.5" width="1" height="15" fill="#aca899"/><rect x="692.2" y="567.5" width="1" height="15" fill="#fff"/>
<text x="699.5" y="577.6" font-size="7" font-weight="bold" fill="#000" textLength="10" lengthAdjust="spacingAndGlyphs">1:1</text><path d="M701.8 571.3h5.4l-2.7-2.8zM701.8 578.9h5.4l-2.7 2.8z" fill="#f00000"/>
<text x="715.3" y="577.6" font-size="7" font-weight="bold" fill="#000" textLength="10" lengthAdjust="spacingAndGlyphs">1:1</text><path d="M716.6 572.3v5.4l-2.8-2.7zM724 572.3v5.4l2.8-2.7z" fill="#f00000"/>
<text x="731.3" y="577.6" font-size="7" font-weight="bold" fill="#000" textLength="10" lengthAdjust="spacingAndGlyphs">1:1</text><path d="M733.6 571.3h5.4l-2.7-2.8zM733.6 578.9h5.4l-2.7 2.8zM732.6 572.3v5.4l-2.8-2.7zM740 572.3v5.4l2.8-2.7z" fill="#f00000"/>
<rect x="745.2" y="567.5" width="1" height="15" fill="#aca899"/><rect x="746.2" y="567.5" width="1" height="15" fill="#fff"/>
<path d="M754.4 569.5h6.5l3 3v8.5h-9.5z" fill="#fff" stroke="#000" stroke-width="1.1"/><path d="M756 573.5l1 1.2l1.8-2.2M756 577.5l1 1.2l1.8-2.2M760 574.3h2.5M760 578.3h2.5" stroke="#000" stroke-width="0.8" fill="none"/>
<path d="M768.8 571.3h6l2.3 4.4h-10.6z" fill="none" stroke="#f01010" stroke-width="1.1"/><rect x="766" y="575.8" width="12" height="1.8" fill="#f01010"/><path d="M777.3 573.7h5.4l-2.7 3z" fill="#000"/>
<text x="790.3" y="578.3" font-size="9.3" fill="#000" stroke="#000" stroke-width="0.25" textLength="16" lengthAdjust="spacingAndGlyphs">N/A</text><path d="M809.5999999999999 573.7h5.4l-2.7 3z" fill="#000"/>
<rect x="4" y="585.5" width="818.5" height="18.3" fill="#ece9d8"/>
<rect x="4" y="584.6" width="818.5" height="1" fill="#a8a494"/><rect x="4" y="585.6" width="818.5" height="1" fill="#fbfaf4"/>
<path d="M585.5 602.5V587.3H707.5" stroke="#9d9a8a" stroke-width="1" fill="none"/><path d="M707.5 587.3V602.5H585.5" stroke="#fff" stroke-width="1" fill="none"/>
<path d="M709 602.5V587.3H784.5" stroke="#9d9a8a" stroke-width="1" fill="none"/><path d="M784.5 587.3V602.5H709" stroke="#fff" stroke-width="1" fill="none"/>
<text x="587.2" y="598.6" font-size="11.3" fill="#000" textLength="77.2" lengthAdjust="spacingAndGlyphs" xml:space="preserve">01/18/06 21:37</text>
<text x="673.3" y="598.6" font-size="11.3" fill="#000" textLength="30.5" lengthAdjust="spacingAndGlyphs">103.27</text>
<text x="710.7" y="598.6" font-size="11.3" fill="#000" textLength="71" lengthAdjust="spacingAndGlyphs" xml:space="preserve">01 18 21:38:47</text>
<circle cx="795.3" cy="595.5" r="7.4" fill="#d8d8d0" stroke="#303030" stroke-width="1"/><circle cx="795.3" cy="595.5" r="5.6" fill="none" stroke="#202020" stroke-width="1"/><circle cx="795.3" cy="595.5" r="4" fill="#10c010" stroke="#084008" stroke-width="1"/><circle cx="794.3" cy="594.5" r="1.3" fill="#80ff80"/>
<path d="M821.5 592.5l-9.5 10M821.5 596.5l-6 6.5M821.5 600l-3 3" stroke="#a8a494" stroke-width="1.4"/><path d="M822.3 593.5l-9.5 10M822.3 597.5l-6 6.5" stroke="#fff" stroke-width="0.8"/>
</svg></body></html>
